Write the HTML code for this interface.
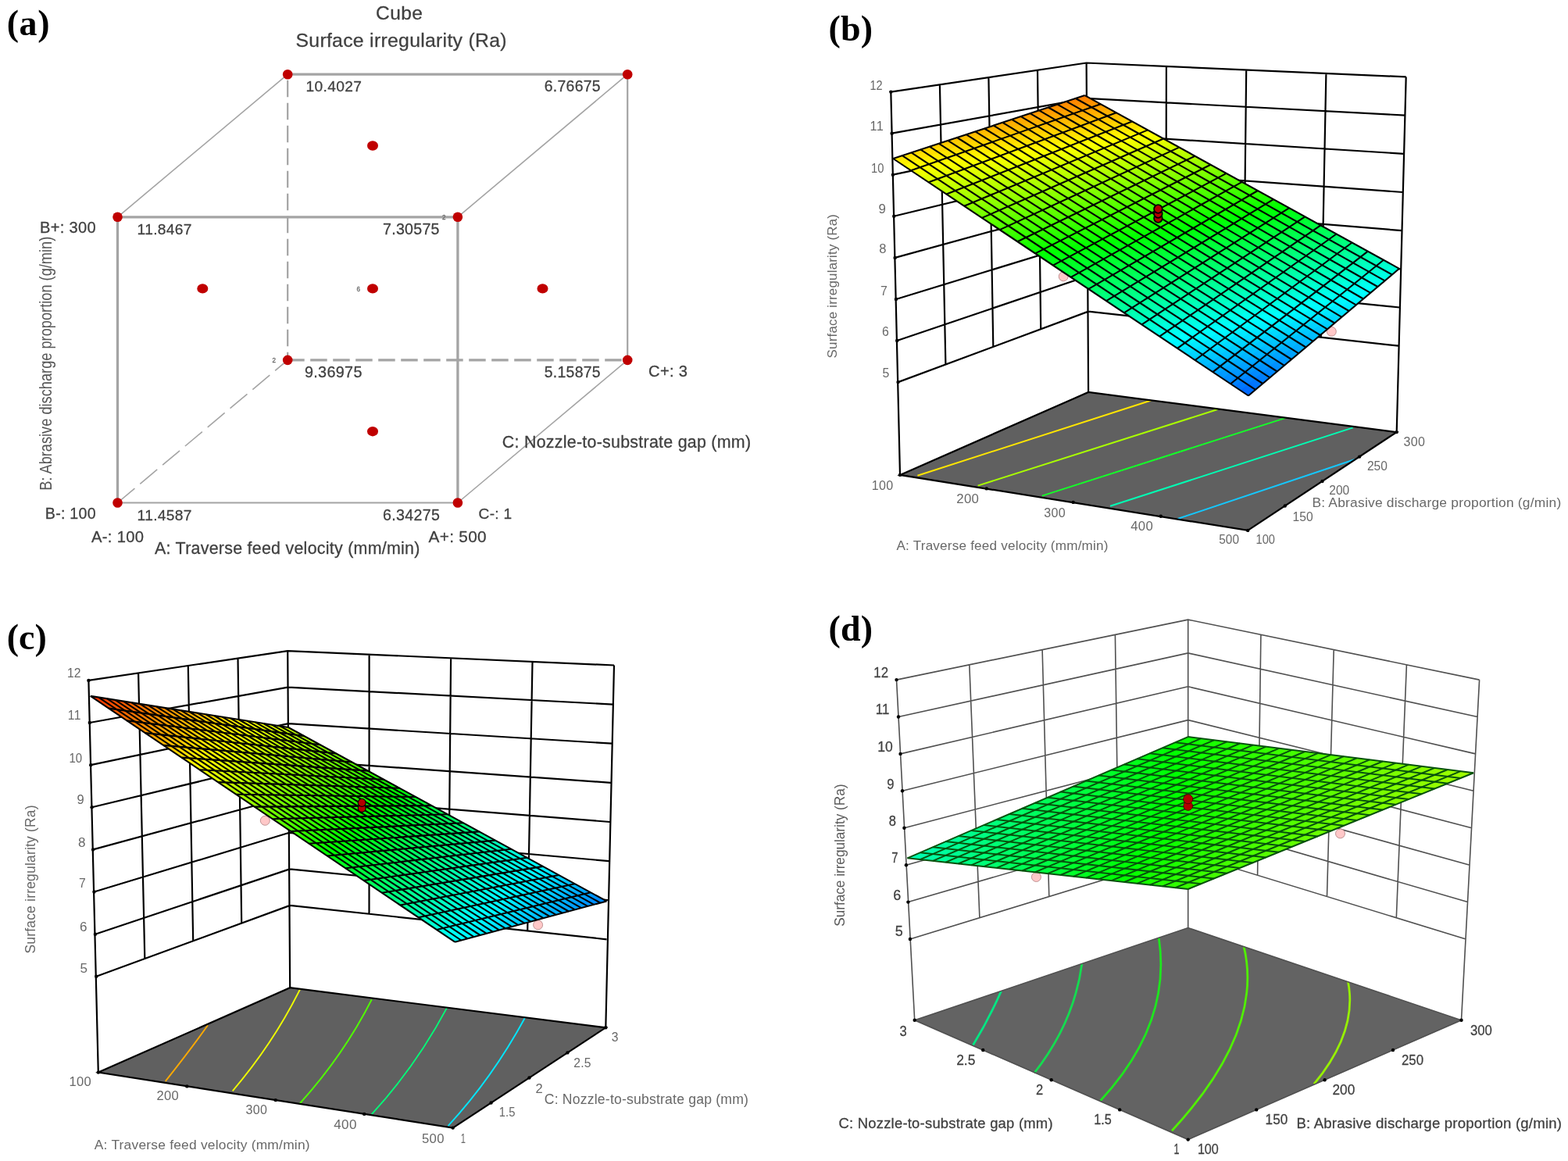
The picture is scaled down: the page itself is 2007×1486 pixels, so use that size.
<!DOCTYPE html>
<html lang="en">
<head>
<meta charset="utf-8">
<title>Surface irregularity (Ra) - cube and response surface plots</title>
<style>
html,body{margin:0;padding:0;background:#fff;}
body{width:2007px;height:1486px;overflow:hidden;}
svg{display:block;}
text{white-space:pre;}
</style>
</head>
<body>
<svg width="2007" height="1486" viewBox="0 0 2007 1486" role="img" aria-label="Cube plot and three response surface plots of surface irregularity (Ra)">
<rect x="0" y="0" width="2007" height="1486" fill="#ffffff"/>
<g>
<line x1="368.2" y1="95.2" x2="368.2" y2="460.9" stroke="#a4a4a4" stroke-width="2.2" stroke-dasharray="21.5 7.5" stroke-dashoffset="21.5"/>
<line x1="368.2" y1="460.9" x2="803.2" y2="460.9" stroke="#a4a4a4" stroke-width="3.3" stroke-dasharray="21.5 7.5"/>
<line x1="150.5" y1="643.5" x2="368.2" y2="460.9" stroke="#a4a4a4" stroke-width="1.6" stroke-dasharray="28.6 9"/>
<line x1="150.5" y1="277.8" x2="368.2" y2="95.2" stroke="#a4a4a4" stroke-width="1.6"/>
<line x1="585.9" y1="277.8" x2="803.2" y2="95.2" stroke="#a4a4a4" stroke-width="1.6"/>
<line x1="585.9" y1="643.5" x2="803.2" y2="460.9" stroke="#a4a4a4" stroke-width="1.6"/>
<line x1="368.2" y1="95.2" x2="803.2" y2="95.2" stroke="#a4a4a4" stroke-width="3.3"/>
<line x1="803.2" y1="95.2" x2="803.2" y2="460.9" stroke="#a4a4a4" stroke-width="2.2"/>
<line x1="150.5" y1="277.8" x2="585.9" y2="277.8" stroke="#a4a4a4" stroke-width="3.3"/>
<line x1="150.5" y1="277.8" x2="150.5" y2="643.5" stroke="#a4a4a4" stroke-width="3.3"/>
<line x1="585.9" y1="277.8" x2="585.9" y2="643.5" stroke="#a4a4a4" stroke-width="3.3"/>
<line x1="150.5" y1="643.5" x2="585.9" y2="643.5" stroke="#a4a4a4" stroke-width="2.2"/>
<circle cx="150.5" cy="277.8" r="6.3" fill="#c00000"/>
<circle cx="585.9" cy="277.8" r="6.3" fill="#c00000"/>
<circle cx="150.5" cy="643.5" r="6.3" fill="#c00000"/>
<circle cx="585.9" cy="643.5" r="6.3" fill="#c00000"/>
<circle cx="368.2" cy="95.2" r="6.3" fill="#c00000"/>
<circle cx="803.2" cy="95.2" r="6.3" fill="#c00000"/>
<circle cx="368.2" cy="460.9" r="6.3" fill="#c00000"/>
<circle cx="803.2" cy="460.9" r="6.3" fill="#c00000"/>
<ellipse cx="477" cy="186.5" rx="7" ry="6.2" fill="#c00000"/>
<ellipse cx="259.3" cy="369.4" rx="7" ry="6.2" fill="#c00000"/>
<ellipse cx="477" cy="369.4" rx="7" ry="6.2" fill="#c00000"/>
<ellipse cx="694.5" cy="369.4" rx="7" ry="6.2" fill="#c00000"/>
<ellipse cx="477" cy="552.2" rx="7" ry="6.2" fill="#c00000"/>
<text x="481" y="25.3" font-size="24.5" textLength="60" lengthAdjust="spacing" fill="#404040" font-family="'Liberation Sans', Arial, Helvetica, sans-serif" stroke="#404040" stroke-width="0.28">Cube</text>
<text x="378.5" y="59.5" font-size="24.8" textLength="270" lengthAdjust="spacing" fill="#404040" font-family="'Liberation Sans', Arial, Helvetica, sans-serif" stroke="#404040" stroke-width="0.28">Surface irregularity (Ra)</text>
<text x="391.6" y="117.1" font-size="19.2" textLength="71.3" lengthAdjust="spacing" fill="#404040" font-family="'Liberation Sans', Arial, Helvetica, sans-serif" stroke="#404040" stroke-width="0.28">10.4027</text>
<text x="696.8" y="117.1" font-size="19.4" textLength="71.8" lengthAdjust="spacing" fill="#404040" font-family="'Liberation Sans', Arial, Helvetica, sans-serif" stroke="#404040" stroke-width="0.28">6.76675</text>
<text x="175.6" y="300.2" font-size="19.2" textLength="69.8" lengthAdjust="spacing" fill="#404040" font-family="'Liberation Sans', Arial, Helvetica, sans-serif" stroke="#404040" stroke-width="0.28">11.8467</text>
<text x="490" y="300.2" font-size="19.6" textLength="72.5" lengthAdjust="spacing" fill="#404040" font-family="'Liberation Sans', Arial, Helvetica, sans-serif" stroke="#404040" stroke-width="0.28">7.30575</text>
<text x="389.9" y="483.4" font-size="19.8" textLength="73.5" lengthAdjust="spacing" fill="#404040" font-family="'Liberation Sans', Arial, Helvetica, sans-serif" stroke="#404040" stroke-width="0.28">9.36975</text>
<text x="696.8" y="483.4" font-size="19.4" textLength="71.8" lengthAdjust="spacing" fill="#404040" font-family="'Liberation Sans', Arial, Helvetica, sans-serif" stroke="#404040" stroke-width="0.28">5.15875</text>
<text x="175.6" y="665.7" font-size="19.2" textLength="69.8" lengthAdjust="spacing" fill="#404040" font-family="'Liberation Sans', Arial, Helvetica, sans-serif" stroke="#404040" stroke-width="0.28">11.4587</text>
<text x="490" y="665.7" font-size="19.6" textLength="72.8" lengthAdjust="spacing" fill="#404040" font-family="'Liberation Sans', Arial, Helvetica, sans-serif" stroke="#404040" stroke-width="0.28">6.34275</text>
<text x="51.1" y="297.7" font-size="20.1" textLength="71.5" lengthAdjust="spacing" fill="#404040" font-family="'Liberation Sans', Arial, Helvetica, sans-serif" stroke="#404040" stroke-width="0.28">B+: 300</text>
<text x="57.8" y="664" font-size="19.6" textLength="64.8" lengthAdjust="spacing" fill="#404040" font-family="'Liberation Sans', Arial, Helvetica, sans-serif" stroke="#404040" stroke-width="0.28">B-: 100</text>
<text x="117.1" y="694.4" font-size="20.2" textLength="66.8" lengthAdjust="spacing" fill="#404040" font-family="'Liberation Sans', Arial, Helvetica, sans-serif" stroke="#404040" stroke-width="0.28">A-: 100</text>
<text x="548.6" y="693.9" font-size="20.8" textLength="74" lengthAdjust="spacing" fill="#404040" font-family="'Liberation Sans', Arial, Helvetica, sans-serif" stroke="#404040" stroke-width="0.28">A+: 500</text>
<text x="612.6" y="664" font-size="19.1" textLength="42.4" lengthAdjust="spacing" fill="#404040" font-family="'Liberation Sans', Arial, Helvetica, sans-serif" stroke="#404040" stroke-width="0.28">C-: 1</text>
<text x="830.1" y="482.1" font-size="20.1" textLength="49.8" lengthAdjust="spacing" fill="#404040" font-family="'Liberation Sans', Arial, Helvetica, sans-serif" stroke="#404040" stroke-width="0.28">C+: 3</text>
<text x="642.8" y="573" font-size="21.4" textLength="318.2" lengthAdjust="spacing" fill="#404040" font-family="'Liberation Sans', Arial, Helvetica, sans-serif" stroke="#404040" stroke-width="0.28">C: Nozzle-to-substrate gap (mm)</text>
<text x="198" y="708.8" font-size="21.4" textLength="339.4" lengthAdjust="spacing" fill="#404040" font-family="'Liberation Sans', Arial, Helvetica, sans-serif" stroke="#404040" stroke-width="0.28">A: Traverse feed velocity (mm/min)</text>
<text transform="translate(66,627.8) rotate(-90)" x="0" y="0" font-size="22.8" textLength="325.1" lengthAdjust="spacingAndGlyphs" fill="#555" font-family="'Liberation Sans', Arial, Helvetica, sans-serif">B: Abrasive discharge proportion (g/min)</text>
<text x="566" y="280.5" font-size="8.5" textLength="4.5" lengthAdjust="spacingAndGlyphs" fill="#666" font-family="'Liberation Sans', Arial, Helvetica, sans-serif" stroke="#666" stroke-width="0.28">2</text>
<text x="456.5" y="372.5" font-size="8.5" textLength="4.5" lengthAdjust="spacingAndGlyphs" fill="#666" font-family="'Liberation Sans', Arial, Helvetica, sans-serif" stroke="#666" stroke-width="0.28">6</text>
<text x="348.5" y="464" font-size="8.5" textLength="4.5" lengthAdjust="spacingAndGlyphs" fill="#666" font-family="'Liberation Sans', Arial, Helvetica, sans-serif" stroke="#666" stroke-width="0.28">2</text>
<text x="8.7" y="45" font-size="46" textLength="54.8" lengthAdjust="spacing" fill="#000" font-family="'Liberation Serif', 'Times New Roman', serif" font-weight="bold">(a)</text>
</g>
<g>
<polygon points="1152,607.9 1393.1,502 1787.7,553.1 1597.2,678.9" fill="#606060"/>
<path d="M1174.4 608.7L1473.3 512.5" stroke="#ffe600" stroke-width="2" fill="none" stroke-linecap="butt"/>
<path d="M1251.6 621.6L1558.5 524" stroke="#aaff00" stroke-width="2" fill="none" stroke-linecap="butt"/>
<path d="M1333.8 634.6L1645.7 534.9" stroke="#14ff28" stroke-width="2" fill="none" stroke-linecap="butt"/>
<path d="M1421 647.8L1731.7 547.4" stroke="#00ffb4" stroke-width="2" fill="none" stroke-linecap="butt"/>
<path d="M1507.5 664L1734.2 588" stroke="#14c8ff" stroke-width="2" fill="none" stroke-linecap="butt"/>
<path d="M1152 607.9L1393.1 502L1787.7 553.1L1597.2 678.9Z" stroke="#000" stroke-width="2.2" fill="none" stroke-linejoin="miter"/>
<path d="M1140.3 117.6L1152 607.9M1202.9 108.3L1210.4 466.5M1492.9 85L1492.3 409.6M1265.4 99L1271.3 443.9M1595.2 89.5L1591.5 420.6M1328 89.8L1332.2 421.2M1697.4 93.9L1690.8 431.7M1390.6 80.5L1393.1 502M1799.7 98.4L1787.7 553.1M1140.3 117.6L1390.6 80.5L1799.7 98.4M1141.6 170.7L1391 125.9L1798.3 147.6M1142.9 223.7L1391.3 171.4L1796.9 196.8M1144.2 276.8L1391.7 216.8L1795.5 246M1145.6 329.9L1392 262.3L1794.2 295.1M1146.9 383L1392.4 307.7L1792.8 344.3M1148.2 436L1392.7 353.2L1791.4 393.5M1149.5 489.1L1393.1 398.6L1790 442.7" stroke="#000" stroke-width="2.2" fill="none" stroke-linejoin="round"/>
<circle cx="1262.8" cy="625.4" r="2.2" fill="#000"/>
<circle cx="1373.7" cy="642.9" r="2.2" fill="#000"/>
<circle cx="1485.8" cy="660.7" r="2.2" fill="#000"/>
<circle cx="1597.2" cy="678.9" r="2.2" fill="#000"/>
<circle cx="1152" cy="607.9" r="2.2" fill="#000"/>
<circle cx="1644.8" cy="647.5" r="2.2" fill="#000"/>
<circle cx="1692.5" cy="616" r="2.2" fill="#000"/>
<circle cx="1740.1" cy="584.6" r="2.2" fill="#000"/>
<circle cx="1787.7" cy="553.1" r="2.2" fill="#000"/>
<circle cx="1140.3" cy="117.6" r="2.2" fill="#000"/>
<circle cx="1141.6" cy="170.7" r="2.2" fill="#000"/>
<circle cx="1142.9" cy="223.7" r="2.2" fill="#000"/>
<circle cx="1144.2" cy="276.8" r="2.2" fill="#000"/>
<circle cx="1145.6" cy="329.9" r="2.2" fill="#000"/>
<circle cx="1146.9" cy="383" r="2.2" fill="#000"/>
<circle cx="1148.2" cy="436" r="2.2" fill="#000"/>
<circle cx="1149.5" cy="489.1" r="2.2" fill="#000"/>
<circle cx="1361.2" cy="353.8" r="6" fill="#ffc8c8" stroke="#b08080" stroke-width="0.8"/>
<circle cx="1704.3" cy="424.3" r="6" fill="#ffc8c8" stroke="#b08080" stroke-width="0.8"/>
<defs><linearGradient id="gb0" gradientUnits="userSpaceOnUse" x1="0" y1="0" x2="0" y2="1" gradientTransform="matrix(7.14 4.38 244.96 -81.58 1146.99 205.53)"><stop offset="0.000" stop-color="#ffe500"/><stop offset="1.000" stop-color="#ff7a00"/></linearGradient><linearGradient id="gb1" gradientUnits="userSpaceOnUse" x1="0" y1="0" x2="0" y2="1" gradientTransform="matrix(7.14 4.38 244.09 -82.95 1154.57 210.59)"><stop offset="0.000" stop-color="#fff100"/><stop offset="1.000" stop-color="#ff8400"/></linearGradient><linearGradient id="gb2" gradientUnits="userSpaceOnUse" x1="0" y1="0" x2="0" y2="1" gradientTransform="matrix(7.14 4.38 243.22 -84.31 1162.15 215.65)"><stop offset="0.000" stop-color="#fffd00"/><stop offset="1.000" stop-color="#ff8f00"/></linearGradient><linearGradient id="gb3" gradientUnits="userSpaceOnUse" x1="0" y1="0" x2="0" y2="1" gradientTransform="matrix(7.14 4.38 242.35 -85.67 1169.72 220.70)"><stop offset="0.000" stop-color="#f6ff00"/><stop offset="0.083" stop-color="#ffff00"/><stop offset="1.000" stop-color="#ff9900"/></linearGradient><linearGradient id="gb4" gradientUnits="userSpaceOnUse" x1="0" y1="0" x2="0" y2="1" gradientTransform="matrix(7.14 4.38 241.48 -87.03 1177.30 225.76)"><stop offset="0.000" stop-color="#eaff00"/><stop offset="0.185" stop-color="#ffff00"/><stop offset="1.000" stop-color="#ffa300"/></linearGradient><linearGradient id="gb5" gradientUnits="userSpaceOnUse" x1="0" y1="0" x2="0" y2="1" gradientTransform="matrix(7.14 4.38 240.61 -88.40 1184.88 230.82)"><stop offset="0.000" stop-color="#deff00"/><stop offset="0.285" stop-color="#ffff00"/><stop offset="1.000" stop-color="#ffad00"/></linearGradient><linearGradient id="gb6" gradientUnits="userSpaceOnUse" x1="0" y1="0" x2="0" y2="1" gradientTransform="matrix(7.14 4.38 239.73 -89.76 1192.46 235.88)"><stop offset="0.000" stop-color="#d3ff00"/><stop offset="0.381" stop-color="#ffff00"/><stop offset="1.000" stop-color="#ffb700"/></linearGradient><linearGradient id="gb7" gradientUnits="userSpaceOnUse" x1="0" y1="0" x2="0" y2="1" gradientTransform="matrix(7.14 4.38 238.86 -91.12 1200.04 240.94)"><stop offset="0.000" stop-color="#c7ff00"/><stop offset="0.476" stop-color="#ffff00"/><stop offset="1.000" stop-color="#ffc200"/></linearGradient><linearGradient id="gb8" gradientUnits="userSpaceOnUse" x1="0" y1="0" x2="0" y2="1" gradientTransform="matrix(7.14 4.38 237.99 -92.49 1207.62 246.00)"><stop offset="0.000" stop-color="#bbff00"/><stop offset="0.568" stop-color="#ffff00"/><stop offset="1.000" stop-color="#ffcc00"/></linearGradient><linearGradient id="gb9" gradientUnits="userSpaceOnUse" x1="0" y1="0" x2="0" y2="1" gradientTransform="matrix(7.14 4.38 237.12 -93.85 1215.19 251.05)"><stop offset="0.000" stop-color="#b0ff00"/><stop offset="0.658" stop-color="#ffff00"/><stop offset="1.000" stop-color="#ffd600"/></linearGradient><linearGradient id="gb10" gradientUnits="userSpaceOnUse" x1="0" y1="0" x2="0" y2="1" gradientTransform="matrix(7.14 4.38 236.25 -95.22 1222.77 256.11)"><stop offset="0.000" stop-color="#a4ff00"/><stop offset="0.746" stop-color="#ffff00"/><stop offset="1.000" stop-color="#ffe000"/></linearGradient><linearGradient id="gb11" gradientUnits="userSpaceOnUse" x1="0" y1="0" x2="0" y2="1" gradientTransform="matrix(7.14 4.38 235.38 -96.58 1230.35 261.17)"><stop offset="0.000" stop-color="#99ff00"/><stop offset="0.832" stop-color="#ffff00"/><stop offset="1.000" stop-color="#ffea00"/></linearGradient><linearGradient id="gb12" gradientUnits="userSpaceOnUse" x1="0" y1="0" x2="0" y2="1" gradientTransform="matrix(7.14 4.38 234.50 -97.94 1237.93 266.23)"><stop offset="0.000" stop-color="#8dff00"/><stop offset="0.916" stop-color="#ffff00"/><stop offset="1.000" stop-color="#fff500"/></linearGradient><linearGradient id="gb13" gradientUnits="userSpaceOnUse" x1="0" y1="0" x2="0" y2="1" gradientTransform="matrix(7.14 4.38 233.63 -99.31 1245.51 271.29)"><stop offset="0.000" stop-color="#81ff00"/><stop offset="0.998" stop-color="#ffff00"/><stop offset="1.000" stop-color="#ffff00"/></linearGradient><linearGradient id="gb14" gradientUnits="userSpaceOnUse" x1="0" y1="0" x2="0" y2="1" gradientTransform="matrix(7.14 4.38 232.76 -100.67 1253.09 276.35)"><stop offset="0.000" stop-color="#76ff00"/><stop offset="1.000" stop-color="#f5ff00"/></linearGradient><linearGradient id="gb15" gradientUnits="userSpaceOnUse" x1="0" y1="0" x2="0" y2="1" gradientTransform="matrix(7.14 4.38 231.89 -102.03 1260.66 281.40)"><stop offset="0.000" stop-color="#6aff00"/><stop offset="1.000" stop-color="#ebff00"/></linearGradient><linearGradient id="gb16" gradientUnits="userSpaceOnUse" x1="0" y1="0" x2="0" y2="1" gradientTransform="matrix(7.14 4.38 231.02 -103.39 1268.24 286.46)"><stop offset="0.000" stop-color="#5eff00"/><stop offset="1.000" stop-color="#e1ff00"/></linearGradient><linearGradient id="gb17" gradientUnits="userSpaceOnUse" x1="0" y1="0" x2="0" y2="1" gradientTransform="matrix(7.14 4.38 230.15 -104.76 1275.82 291.52)"><stop offset="0.000" stop-color="#53ff00"/><stop offset="1.000" stop-color="#d6ff00"/></linearGradient><linearGradient id="gb18" gradientUnits="userSpaceOnUse" x1="0" y1="0" x2="0" y2="1" gradientTransform="matrix(7.14 4.38 229.27 -106.12 1283.40 296.58)"><stop offset="0.000" stop-color="#47ff00"/><stop offset="1.000" stop-color="#ccff00"/></linearGradient><linearGradient id="gb19" gradientUnits="userSpaceOnUse" x1="0" y1="0" x2="0" y2="1" gradientTransform="matrix(7.14 4.38 228.40 -107.49 1290.98 301.64)"><stop offset="0.000" stop-color="#3bff00"/><stop offset="1.000" stop-color="#c2ff00"/></linearGradient><linearGradient id="gb20" gradientUnits="userSpaceOnUse" x1="0" y1="0" x2="0" y2="1" gradientTransform="matrix(7.14 4.38 227.53 -108.85 1298.56 306.70)"><stop offset="0.000" stop-color="#30ff00"/><stop offset="1.000" stop-color="#b8ff00"/></linearGradient><linearGradient id="gb21" gradientUnits="userSpaceOnUse" x1="0" y1="0" x2="0" y2="1" gradientTransform="matrix(7.14 4.38 226.66 -110.21 1306.13 311.75)"><stop offset="0.000" stop-color="#24ff00"/><stop offset="1.000" stop-color="#aeff00"/></linearGradient><linearGradient id="gb22" gradientUnits="userSpaceOnUse" x1="0" y1="0" x2="0" y2="1" gradientTransform="matrix(7.14 4.38 225.79 -111.57 1313.71 316.81)"><stop offset="0.000" stop-color="#18ff00"/><stop offset="1.000" stop-color="#a3ff00"/></linearGradient><linearGradient id="gb23" gradientUnits="userSpaceOnUse" x1="0" y1="0" x2="0" y2="1" gradientTransform="matrix(7.14 4.38 224.92 -112.94 1321.29 321.87)"><stop offset="0.000" stop-color="#0dff00"/><stop offset="1.000" stop-color="#99ff00"/></linearGradient><linearGradient id="gb24" gradientUnits="userSpaceOnUse" x1="0" y1="0" x2="0" y2="1" gradientTransform="matrix(7.14 4.38 224.04 -114.30 1328.87 326.93)"><stop offset="0.000" stop-color="#01ff00"/><stop offset="1.000" stop-color="#8fff00"/></linearGradient><linearGradient id="gb25" gradientUnits="userSpaceOnUse" x1="0" y1="0" x2="0" y2="1" gradientTransform="matrix(7.14 4.38 223.17 -115.67 1336.45 331.99)"><stop offset="0.000" stop-color="#00ff0b"/><stop offset="0.074" stop-color="#00ff00"/><stop offset="1.000" stop-color="#85ff00"/></linearGradient><linearGradient id="gb26" gradientUnits="userSpaceOnUse" x1="0" y1="0" x2="0" y2="1" gradientTransform="matrix(7.14 4.38 222.30 -117.03 1344.03 337.05)"><stop offset="0.000" stop-color="#00ff16"/><stop offset="0.153" stop-color="#00ff00"/><stop offset="1.000" stop-color="#7bff00"/></linearGradient><linearGradient id="gb27" gradientUnits="userSpaceOnUse" x1="0" y1="0" x2="0" y2="1" gradientTransform="matrix(7.14 4.38 221.43 -118.39 1351.60 342.10)"><stop offset="0.000" stop-color="#00ff22"/><stop offset="0.231" stop-color="#00ff00"/><stop offset="1.000" stop-color="#70ff00"/></linearGradient><linearGradient id="gb28" gradientUnits="userSpaceOnUse" x1="0" y1="0" x2="0" y2="1" gradientTransform="matrix(7.14 4.38 220.56 -119.76 1359.18 347.16)"><stop offset="0.000" stop-color="#00ff2e"/><stop offset="0.308" stop-color="#00ff00"/><stop offset="1.000" stop-color="#66ff00"/></linearGradient><linearGradient id="gb29" gradientUnits="userSpaceOnUse" x1="0" y1="0" x2="0" y2="1" gradientTransform="matrix(7.14 4.38 219.69 -121.12 1366.76 352.22)"><stop offset="0.000" stop-color="#00ff39"/><stop offset="0.383" stop-color="#00ff00"/><stop offset="1.000" stop-color="#5cff00"/></linearGradient><linearGradient id="gb30" gradientUnits="userSpaceOnUse" x1="0" y1="0" x2="0" y2="1" gradientTransform="matrix(7.14 4.38 218.81 -122.48 1374.34 357.28)"><stop offset="0.000" stop-color="#00ff45"/><stop offset="0.457" stop-color="#00ff00"/><stop offset="1.000" stop-color="#52ff00"/></linearGradient><linearGradient id="gb31" gradientUnits="userSpaceOnUse" x1="0" y1="0" x2="0" y2="1" gradientTransform="matrix(7.14 4.38 217.94 -123.84 1381.92 362.34)"><stop offset="0.000" stop-color="#00ff50"/><stop offset="0.529" stop-color="#00ff00"/><stop offset="1.000" stop-color="#48ff00"/></linearGradient><linearGradient id="gb32" gradientUnits="userSpaceOnUse" x1="0" y1="0" x2="0" y2="1" gradientTransform="matrix(7.14 4.38 217.07 -125.21 1389.50 367.40)"><stop offset="0.000" stop-color="#00ff5c"/><stop offset="0.600" stop-color="#00ff00"/><stop offset="1.000" stop-color="#3eff00"/></linearGradient><linearGradient id="gb33" gradientUnits="userSpaceOnUse" x1="0" y1="0" x2="0" y2="1" gradientTransform="matrix(7.14 4.38 216.20 -126.57 1397.07 372.45)"><stop offset="0.000" stop-color="#00ff68"/><stop offset="0.669" stop-color="#00ff00"/><stop offset="1.000" stop-color="#33ff00"/></linearGradient><linearGradient id="gb34" gradientUnits="userSpaceOnUse" x1="0" y1="0" x2="0" y2="1" gradientTransform="matrix(7.14 4.38 215.33 -127.94 1404.65 377.51)"><stop offset="0.000" stop-color="#00ff73"/><stop offset="0.737" stop-color="#00ff00"/><stop offset="1.000" stop-color="#29ff00"/></linearGradient><linearGradient id="gb35" gradientUnits="userSpaceOnUse" x1="0" y1="0" x2="0" y2="1" gradientTransform="matrix(7.14 4.38 214.46 -129.30 1412.23 382.57)"><stop offset="0.000" stop-color="#00ff7f"/><stop offset="0.804" stop-color="#00ff00"/><stop offset="1.000" stop-color="#1fff00"/></linearGradient><linearGradient id="gb36" gradientUnits="userSpaceOnUse" x1="0" y1="0" x2="0" y2="1" gradientTransform="matrix(7.14 4.38 213.58 -130.66 1419.81 387.63)"><stop offset="0.000" stop-color="#00ff8b"/><stop offset="0.870" stop-color="#00ff00"/><stop offset="1.000" stop-color="#15ff00"/></linearGradient><linearGradient id="gb37" gradientUnits="userSpaceOnUse" x1="0" y1="0" x2="0" y2="1" gradientTransform="matrix(7.14 4.38 212.71 -132.02 1427.39 392.69)"><stop offset="0.000" stop-color="#00ff96"/><stop offset="0.935" stop-color="#00ff00"/><stop offset="1.000" stop-color="#0bff00"/></linearGradient><linearGradient id="gb38" gradientUnits="userSpaceOnUse" x1="0" y1="0" x2="0" y2="1" gradientTransform="matrix(7.14 4.38 211.84 -133.39 1434.97 397.75)"><stop offset="0.000" stop-color="#00ffa2"/><stop offset="0.998" stop-color="#00ff00"/><stop offset="1.000" stop-color="#00ff00"/></linearGradient><linearGradient id="gb39" gradientUnits="userSpaceOnUse" x1="0" y1="0" x2="0" y2="1" gradientTransform="matrix(7.14 4.38 210.97 -134.75 1442.54 402.80)"><stop offset="0.000" stop-color="#00ffae"/><stop offset="1.000" stop-color="#00ff0a"/></linearGradient><linearGradient id="gb40" gradientUnits="userSpaceOnUse" x1="0" y1="0" x2="0" y2="1" gradientTransform="matrix(7.14 4.38 210.10 -136.12 1450.12 407.86)"><stop offset="0.000" stop-color="#00ffb9"/><stop offset="1.000" stop-color="#00ff14"/></linearGradient><linearGradient id="gb41" gradientUnits="userSpaceOnUse" x1="0" y1="0" x2="0" y2="1" gradientTransform="matrix(7.14 4.38 209.23 -137.48 1457.70 412.92)"><stop offset="0.000" stop-color="#00ffc5"/><stop offset="1.000" stop-color="#00ff1e"/></linearGradient><linearGradient id="gb42" gradientUnits="userSpaceOnUse" x1="0" y1="0" x2="0" y2="1" gradientTransform="matrix(7.14 4.38 208.35 -138.84 1465.28 417.98)"><stop offset="0.000" stop-color="#00ffd1"/><stop offset="1.000" stop-color="#00ff28"/></linearGradient><linearGradient id="gb43" gradientUnits="userSpaceOnUse" x1="0" y1="0" x2="0" y2="1" gradientTransform="matrix(7.14 4.38 207.48 -140.21 1472.86 423.04)"><stop offset="0.000" stop-color="#00ffdc"/><stop offset="1.000" stop-color="#00ff33"/></linearGradient><linearGradient id="gb44" gradientUnits="userSpaceOnUse" x1="0" y1="0" x2="0" y2="1" gradientTransform="matrix(7.14 4.38 206.61 -141.57 1480.44 428.10)"><stop offset="0.000" stop-color="#00ffe8"/><stop offset="1.000" stop-color="#00ff3d"/></linearGradient><linearGradient id="gb45" gradientUnits="userSpaceOnUse" x1="0" y1="0" x2="0" y2="1" gradientTransform="matrix(7.14 4.38 205.74 -142.93 1488.01 433.15)"><stop offset="0.000" stop-color="#00fff4"/><stop offset="1.000" stop-color="#00ff47"/></linearGradient><linearGradient id="gb46" gradientUnits="userSpaceOnUse" x1="0" y1="0" x2="0" y2="1" gradientTransform="matrix(7.14 4.38 204.87 -144.29 1495.59 438.21)"><stop offset="0.000" stop-color="#00ffff"/><stop offset="0.001" stop-color="#00ffff"/><stop offset="1.000" stop-color="#00ff51"/></linearGradient><linearGradient id="gb47" gradientUnits="userSpaceOnUse" x1="0" y1="0" x2="0" y2="1" gradientTransform="matrix(7.14 4.38 204.00 -145.66 1503.17 443.27)"><stop offset="0.000" stop-color="#00f3ff"/><stop offset="0.068" stop-color="#00ffff"/><stop offset="1.000" stop-color="#00ff5c"/></linearGradient><linearGradient id="gb48" gradientUnits="userSpaceOnUse" x1="0" y1="0" x2="0" y2="1" gradientTransform="matrix(7.14 4.38 203.12 -147.02 1510.75 448.33)"><stop offset="0.000" stop-color="#00e7ff"/><stop offset="0.133" stop-color="#00ffff"/><stop offset="1.000" stop-color="#00ff66"/></linearGradient><linearGradient id="gb49" gradientUnits="userSpaceOnUse" x1="0" y1="0" x2="0" y2="1" gradientTransform="matrix(7.14 4.38 202.25 -148.38 1518.33 453.39)"><stop offset="0.000" stop-color="#00dcff"/><stop offset="0.197" stop-color="#00ffff"/><stop offset="1.000" stop-color="#00ff70"/></linearGradient><linearGradient id="gb50" gradientUnits="userSpaceOnUse" x1="0" y1="0" x2="0" y2="1" gradientTransform="matrix(7.14 4.38 201.38 -149.75 1525.91 458.45)"><stop offset="0.000" stop-color="#00d0ff"/><stop offset="0.261" stop-color="#00ffff"/><stop offset="1.000" stop-color="#00ff7a"/></linearGradient><linearGradient id="gb51" gradientUnits="userSpaceOnUse" x1="0" y1="0" x2="0" y2="1" gradientTransform="matrix(7.14 4.38 200.51 -151.11 1533.48 463.50)"><stop offset="0.000" stop-color="#00c5ff"/><stop offset="0.323" stop-color="#00ffff"/><stop offset="1.000" stop-color="#00ff84"/></linearGradient><linearGradient id="gb52" gradientUnits="userSpaceOnUse" x1="0" y1="0" x2="0" y2="1" gradientTransform="matrix(7.14 4.38 199.64 -152.48 1541.06 468.56)"><stop offset="0.000" stop-color="#00b9ff"/><stop offset="0.384" stop-color="#00ffff"/><stop offset="1.000" stop-color="#00ff8e"/></linearGradient><linearGradient id="gb53" gradientUnits="userSpaceOnUse" x1="0" y1="0" x2="0" y2="1" gradientTransform="matrix(7.14 4.38 198.77 -153.84 1548.64 473.62)"><stop offset="0.000" stop-color="#00adff"/><stop offset="0.444" stop-color="#00ffff"/><stop offset="1.000" stop-color="#00ff99"/></linearGradient><linearGradient id="gb54" gradientUnits="userSpaceOnUse" x1="0" y1="0" x2="0" y2="1" gradientTransform="matrix(7.14 4.38 197.89 -155.20 1556.22 478.68)"><stop offset="0.000" stop-color="#00a2ff"/><stop offset="0.504" stop-color="#00ffff"/><stop offset="1.000" stop-color="#00ffa3"/></linearGradient><linearGradient id="gb55" gradientUnits="userSpaceOnUse" x1="0" y1="0" x2="0" y2="1" gradientTransform="matrix(7.14 4.38 197.02 -156.56 1563.80 483.74)"><stop offset="0.000" stop-color="#0096ff"/><stop offset="0.562" stop-color="#00ffff"/><stop offset="1.000" stop-color="#00ffad"/></linearGradient><linearGradient id="gb56" gradientUnits="userSpaceOnUse" x1="0" y1="0" x2="0" y2="1" gradientTransform="matrix(7.14 4.38 196.15 -157.93 1571.38 488.80)"><stop offset="0.000" stop-color="#008aff"/><stop offset="0.619" stop-color="#00ffff"/><stop offset="1.000" stop-color="#00ffb7"/></linearGradient><linearGradient id="gb57" gradientUnits="userSpaceOnUse" x1="0" y1="0" x2="0" y2="1" gradientTransform="matrix(7.14 4.38 195.28 -159.29 1578.95 493.85)"><stop offset="0.000" stop-color="#007fff"/><stop offset="0.676" stop-color="#00ffff"/><stop offset="1.000" stop-color="#00ffc2"/></linearGradient><linearGradient id="gb58" gradientUnits="userSpaceOnUse" x1="0" y1="0" x2="0" y2="1" gradientTransform="matrix(7.14 4.38 194.41 -160.65 1586.53 498.91)"><stop offset="0.000" stop-color="#0073ff"/><stop offset="0.732" stop-color="#00ffff"/><stop offset="1.000" stop-color="#00ffcc"/></linearGradient><linearGradient id="gb59" gradientUnits="userSpaceOnUse" x1="0" y1="0" x2="0" y2="1" gradientTransform="matrix(7.14 4.38 193.54 -162.02 1594.11 503.97)"><stop offset="0.000" stop-color="#0067ff"/><stop offset="0.787" stop-color="#00ffff"/><stop offset="1.000" stop-color="#00ffd6"/></linearGradient></defs>
<polygon points="1143.2,203 1153.4,209.8 1397.7,127.1 1388.6,122.1" fill="url(#gb0)"/><polygon points="1148.1,206.3 1161,214.9 1404.4,130.8 1393,124.5" fill="url(#gb1)"/><polygon points="1155.7,211.3 1168.6,219.9 1411.1,134.5 1399.7,128.2" fill="url(#gb2)"/><polygon points="1163.3,216.4 1176.2,225 1417.8,138.2 1406.4,131.9" fill="url(#gb3)"/><polygon points="1170.9,221.5 1183.7,230.1 1424.5,141.9 1413.1,135.6" fill="url(#gb4)"/><polygon points="1178.4,226.5 1191.3,235.1 1431.2,145.6 1419.8,139.3" fill="url(#gb5)"/><polygon points="1186,231.6 1198.9,240.2 1437.9,149.3 1426.5,143" fill="url(#gb6)"/><polygon points="1193.6,236.6 1206.5,245.2 1444.6,153 1433.2,146.7" fill="url(#gb7)"/><polygon points="1201.2,241.7 1214.1,250.3 1451.3,156.6 1439.9,150.4" fill="url(#gb8)"/><polygon points="1208.8,246.8 1221.6,255.4 1458,160.3 1446.6,154.1" fill="url(#gb9)"/><polygon points="1216.3,251.8 1229.2,260.4 1464.7,164 1453.3,157.8" fill="url(#gb10)"/><polygon points="1223.9,256.9 1236.8,265.5 1471.4,167.7 1460,161.5" fill="url(#gb11)"/><polygon points="1231.5,261.9 1244.4,270.5 1478.1,171.4 1466.7,165.1" fill="url(#gb12)"/><polygon points="1239.1,267 1251.9,275.6 1484.8,175.1 1473.4,168.8" fill="url(#gb13)"/><polygon points="1246.6,272 1259.5,280.6 1491.5,178.8 1480.1,172.5" fill="url(#gb14)"/><polygon points="1254.2,277.1 1267.1,285.7 1498.3,182.5 1486.9,176.2" fill="url(#gb15)"/><polygon points="1261.8,282.2 1274.7,290.8 1505,186.2 1493.6,179.9" fill="url(#gb16)"/><polygon points="1269.4,287.2 1282.3,295.8 1511.7,189.9 1500.3,183.6" fill="url(#gb17)"/><polygon points="1277,292.3 1289.8,300.9 1518.4,193.6 1507,187.3" fill="url(#gb18)"/><polygon points="1284.5,297.3 1297.4,305.9 1525.1,197.3 1513.7,191" fill="url(#gb19)"/><polygon points="1292.1,302.4 1305,311 1531.8,201 1520.4,194.7" fill="url(#gb20)"/><polygon points="1299.7,307.5 1312.6,316.1 1538.5,204.7 1527.1,198.4" fill="url(#gb21)"/><polygon points="1307.3,312.5 1320.2,321.1 1545.2,208.4 1533.8,202.1" fill="url(#gb22)"/><polygon points="1314.8,317.6 1327.7,326.2 1551.9,212.1 1540.5,205.8" fill="url(#gb23)"/><polygon points="1322.4,322.6 1335.3,331.2 1558.6,215.8 1547.2,209.5" fill="url(#gb24)"/><polygon points="1330,327.7 1342.9,336.3 1565.3,219.5 1553.9,213.2" fill="url(#gb25)"/><polygon points="1337.6,332.7 1350.5,341.3 1572,223.2 1560.6,216.9" fill="url(#gb26)"/><polygon points="1345.2,337.8 1358,346.4 1578.7,226.9 1567.3,220.6" fill="url(#gb27)"/><polygon points="1352.7,342.9 1365.6,351.5 1585.4,230.5 1574,224.3" fill="url(#gb28)"/><polygon points="1360.3,347.9 1373.2,356.5 1592.1,234.2 1580.7,228" fill="url(#gb29)"/><polygon points="1367.9,353 1380.8,361.6 1598.9,237.9 1587.5,231.7" fill="url(#gb30)"/><polygon points="1375.5,358 1388.4,366.6 1605.6,241.6 1594.2,235.4" fill="url(#gb31)"/><polygon points="1383.1,363.1 1395.9,371.7 1612.3,245.3 1600.9,239" fill="url(#gb32)"/><polygon points="1390.6,368.2 1403.5,376.8 1619,249 1607.6,242.7" fill="url(#gb33)"/><polygon points="1398.2,373.2 1411.1,381.8 1625.7,252.7 1614.3,246.4" fill="url(#gb34)"/><polygon points="1405.8,378.3 1418.7,386.9 1632.4,256.4 1621,250.1" fill="url(#gb35)"/><polygon points="1413.4,383.3 1426.3,391.9 1639.1,260.1 1627.7,253.8" fill="url(#gb36)"/><polygon points="1420.9,388.4 1433.8,397 1645.8,263.8 1634.4,257.5" fill="url(#gb37)"/><polygon points="1428.5,393.4 1441.4,402 1652.5,267.5 1641.1,261.2" fill="url(#gb38)"/><polygon points="1436.1,398.5 1449,407.1 1659.2,271.2 1647.8,264.9" fill="url(#gb39)"/><polygon points="1443.7,403.6 1456.6,412.2 1665.9,274.9 1654.5,268.6" fill="url(#gb40)"/><polygon points="1451.3,408.6 1464.1,417.2 1672.6,278.6 1661.2,272.3" fill="url(#gb41)"/><polygon points="1458.8,413.7 1471.7,422.3 1679.3,282.3 1667.9,276" fill="url(#gb42)"/><polygon points="1466.4,418.7 1479.3,427.3 1686,286 1674.6,279.7" fill="url(#gb43)"/><polygon points="1474,423.8 1486.9,432.4 1692.7,289.7 1681.3,283.4" fill="url(#gb44)"/><polygon points="1481.6,428.9 1494.5,437.5 1699.5,293.4 1688.1,287.1" fill="url(#gb45)"/><polygon points="1489.2,433.9 1502,442.5 1706.2,297.1 1694.8,290.8" fill="url(#gb46)"/><polygon points="1496.7,439 1509.6,447.6 1712.9,300.8 1701.5,294.5" fill="url(#gb47)"/><polygon points="1504.3,444 1517.2,452.6 1719.6,304.4 1708.2,298.2" fill="url(#gb48)"/><polygon points="1511.9,449.1 1524.8,457.7 1726.3,308.1 1714.9,301.9" fill="url(#gb49)"/><polygon points="1519.5,454.1 1532.3,462.7 1733,311.8 1721.6,305.6" fill="url(#gb50)"/><polygon points="1527,459.2 1539.9,467.8 1739.7,315.5 1728.3,309.3" fill="url(#gb51)"/><polygon points="1534.6,464.3 1547.5,472.9 1746.4,319.2 1735,312.9" fill="url(#gb52)"/><polygon points="1542.2,469.3 1555.1,477.9 1753.1,322.9 1741.7,316.6" fill="url(#gb53)"/><polygon points="1549.8,474.4 1562.7,483 1759.8,326.6 1748.4,320.3" fill="url(#gb54)"/><polygon points="1557.4,479.4 1570.2,488 1766.5,330.3 1755.1,324" fill="url(#gb55)"/><polygon points="1564.9,484.5 1577.8,493.1 1773.2,334 1761.8,327.7" fill="url(#gb56)"/><polygon points="1572.5,489.6 1585.4,498.2 1779.9,337.7 1768.5,331.4" fill="url(#gb57)"/><polygon points="1580.1,494.6 1593,503.2 1786.6,341.4 1775.2,335.1" fill="url(#gb58)"/><polygon points="1587.7,499.7 1597.9,506.5 1791,343.8 1781.9,338.8" fill="url(#gb59)"/>
<path d="M1143.2 203L1388.6 122.1M1165.9 218.2L1408.7 133.2M1188.7 233.3L1428.8 144.3M1211.4 248.5L1449 155.4M1234.1 263.7L1469.1 166.4M1256.9 278.9L1489.2 177.5M1279.6 294.1L1509.3 188.6M1302.3 309.2L1529.4 199.7M1325.1 324.4L1549.6 210.8M1347.8 339.6L1569.7 221.9M1370.6 354.8L1589.8 232.9M1393.3 369.9L1609.9 244M1416 385.1L1630 255.1M1438.8 400.3L1650.2 266.2M1461.5 415.4L1670.3 277.3M1484.2 430.6L1690.4 288.4M1507 445.8L1710.5 299.5M1529.7 461L1730.6 310.5M1552.4 476.2L1750.8 321.6M1575.2 491.3L1770.9 332.7M1597.9 506.5L1791 343.8" stroke="#000" stroke-width="2.1" fill="none"/>
<path d="M1143.2 203L1597.9 506.5M1154.9 199.1L1607.1 498.8M1166.6 195.3L1616.3 491M1178.3 191.4L1625.5 483.3M1189.9 187.6L1634.7 475.5M1201.6 183.7L1643.9 467.8M1213.3 179.9L1653.1 460M1225 176L1662.3 452.3M1236.7 172.2L1671.5 444.5M1248.4 168.3L1680.7 436.8M1260.1 164.5L1689.9 429M1271.7 160.6L1699 421.3M1283.4 156.8L1708.2 413.5M1295.1 152.9L1717.4 405.8M1306.8 149.1L1726.6 398M1318.5 145.2L1735.8 390.3M1330.2 141.4L1745 382.5M1341.9 137.5L1754.2 374.8M1353.5 133.7L1763.4 367M1365.2 129.8L1772.6 359.3M1376.9 126L1781.8 351.5M1388.6 122.1L1791 343.8" stroke="#000" stroke-width="2.1" fill="none"/>
<circle cx="1482.4" cy="279.5" r="5.3" fill="#b40000" stroke="#000" stroke-width="1.8"/>
<circle cx="1482.4" cy="273.5" r="5.3" fill="#b40000" stroke="#000" stroke-width="1.8"/>
<circle cx="1482.4" cy="267.5" r="5.3" fill="#b40000" stroke="#000" stroke-width="1.8"/>
<text x="1113.4" y="114.6" font-size="15.8" textLength="16.1" lengthAdjust="spacingAndGlyphs" fill="#686868" font-family="'Liberation Sans', Arial, Helvetica, sans-serif">12</text>
<text x="1113.4" y="167.4" font-size="16.3" textLength="17.4" lengthAdjust="spacing" fill="#686868" font-family="'Liberation Sans', Arial, Helvetica, sans-serif">11</text>
<text x="1115.1" y="220.5" font-size="15.8" textLength="16.4" lengthAdjust="spacingAndGlyphs" fill="#686868" font-family="'Liberation Sans', Arial, Helvetica, sans-serif">10</text>
<text x="1124.6" y="273.3" font-size="15.8" textLength="9.4" lengthAdjust="spacingAndGlyphs" fill="#686868" font-family="'Liberation Sans', Arial, Helvetica, sans-serif">9</text>
<text x="1125.3" y="323.9" font-size="15.8" textLength="9.2" lengthAdjust="spacingAndGlyphs" fill="#686868" font-family="'Liberation Sans', Arial, Helvetica, sans-serif">8</text>
<text x="1127" y="377.5" font-size="15.8" textLength="8.8" lengthAdjust="spacingAndGlyphs" fill="#686868" font-family="'Liberation Sans', Arial, Helvetica, sans-serif">7</text>
<text x="1129" y="429.8" font-size="15.8" textLength="8.8" lengthAdjust="spacingAndGlyphs" fill="#686868" font-family="'Liberation Sans', Arial, Helvetica, sans-serif">6</text>
<text x="1129.5" y="483.4" font-size="15.8" textLength="8.8" lengthAdjust="spacingAndGlyphs" fill="#686868" font-family="'Liberation Sans', Arial, Helvetica, sans-serif">5</text>
<text x="1115.8" y="626.6" font-size="16" textLength="27.4" lengthAdjust="spacing" fill="#686868" font-family="'Liberation Sans', Arial, Helvetica, sans-serif">100</text>
<text x="1224.2" y="644" font-size="16.8" textLength="28.7" lengthAdjust="spacing" fill="#686868" font-family="'Liberation Sans', Arial, Helvetica, sans-serif">200</text>
<text x="1336.3" y="661.5" font-size="16" textLength="27.4" lengthAdjust="spacing" fill="#686868" font-family="'Liberation Sans', Arial, Helvetica, sans-serif">300</text>
<text x="1447.2" y="679.4" font-size="16.7" textLength="28.6" lengthAdjust="spacing" fill="#686868" font-family="'Liberation Sans', Arial, Helvetica, sans-serif">400</text>
<text x="1560.3" y="696.4" font-size="15.8" textLength="25.7" lengthAdjust="spacingAndGlyphs" fill="#686868" font-family="'Liberation Sans', Arial, Helvetica, sans-serif">500</text>
<text x="1607.6" y="696.4" font-size="15.8" textLength="24.4" lengthAdjust="spacingAndGlyphs" fill="#686868" font-family="'Liberation Sans', Arial, Helvetica, sans-serif">100</text>
<text x="1654.5" y="666.5" font-size="15.8" textLength="26.1" lengthAdjust="spacingAndGlyphs" fill="#686868" font-family="'Liberation Sans', Arial, Helvetica, sans-serif">150</text>
<text x="1701.3" y="632.8" font-size="15.8" textLength="25.9" lengthAdjust="spacingAndGlyphs" fill="#686868" font-family="'Liberation Sans', Arial, Helvetica, sans-serif">200</text>
<text x="1749.9" y="602.2" font-size="15.8" textLength="25.9" lengthAdjust="spacingAndGlyphs" fill="#686868" font-family="'Liberation Sans', Arial, Helvetica, sans-serif">250</text>
<text x="1796.5" y="571.3" font-size="16" textLength="27.4" lengthAdjust="spacing" fill="#686868" font-family="'Liberation Sans', Arial, Helvetica, sans-serif">300</text>
<text x="1147.5" y="703.8" font-size="17.1" textLength="271" lengthAdjust="spacing" fill="#686868" font-family="'Liberation Sans', Arial, Helvetica, sans-serif">A: Traverse feed velocity (mm/min)</text>
<text x="1679.4" y="648.5" font-size="17.4" textLength="318.9" lengthAdjust="spacing" fill="#686868" font-family="'Liberation Sans', Arial, Helvetica, sans-serif">B: Abrasive discharge proportion (g/min)</text>
<text transform="translate(1070.5,458.4) rotate(-90)" x="0" y="0" font-size="16.9" textLength="184.4" lengthAdjust="spacing" fill="#686868" font-family="'Liberation Sans', Arial, Helvetica, sans-serif">Surface irregularity (Ra)</text>
<text x="1060.5" y="51.5" font-size="46" textLength="56.6" lengthAdjust="spacing" fill="#000" font-family="'Liberation Serif', 'Times New Roman', serif" font-weight="bold">(b)</text>
</g>
<g>
<polygon points="125.8,1372.6 371.2,1264.2 775.3,1315.3 579.7,1443.6" fill="#606060"/>
<path d="M211.8 1383.8Q242 1346 266 1312.3" stroke="#ffaa00" stroke-width="1.9" fill="none" stroke-linecap="butt"/>
<path d="M297.7 1396.3Q350 1335 384.4 1265.5" stroke="#f0ff00" stroke-width="1.9" fill="none" stroke-linecap="butt"/>
<path d="M383.7 1412.5Q440 1350 475.8 1279.2" stroke="#50ff00" stroke-width="1.9" fill="none" stroke-linecap="butt"/>
<path d="M475.8 1426.2Q532 1365 572.2 1289.6" stroke="#00ff78" stroke-width="1.9" fill="none" stroke-linecap="butt"/>
<path d="M573.5 1441.1Q630 1380 671.9 1302.8" stroke="#00e6ff" stroke-width="1.9" fill="none" stroke-linecap="butt"/>
<path d="M125.8 1372.6L371.2 1264.2L775.3 1315.3L579.7 1443.6Z" stroke="#000" stroke-width="2.2" fill="none" stroke-linejoin="miter"/>
<path d="M113.4 870.9L125.8 1372.6M177.1 861.5L185.3 1227.1M472.6 837.7L472.5 1169.8M240.8 852L247.2 1204.3M577.1 842.3L573.9 1180.6M304.5 842.5L309.2 1181.6M681.5 846.9L675.2 1191.5M368.2 833.1L371.2 1264.2M786 851.5L775.3 1315.3M113.4 870.9L368.2 833.1L786 851.5M114.8 925L368.6 879.6L784.6 901.6M116.2 979.2L369.1 926.2L783.3 951.7M117.6 1033.3L369.5 972.7L781.9 1001.8M119.1 1087.4L369.9 1019.3L780.6 1052M120.5 1141.5L370.3 1065.8L779.2 1102.1M121.9 1195.7L370.8 1112.4L777.9 1152.2M123.3 1249.8L371.2 1158.9L776.5 1202.3" stroke="#000" stroke-width="2.2" fill="none" stroke-linejoin="round"/>
<circle cx="125.8" cy="1372.6" r="2.2" fill="#000"/>
<circle cx="239.3" cy="1390.4" r="2.2" fill="#000"/>
<circle cx="352.8" cy="1408.1" r="2.2" fill="#000"/>
<circle cx="466.2" cy="1425.9" r="2.2" fill="#000"/>
<circle cx="579.7" cy="1443.6" r="2.2" fill="#000"/>
<circle cx="628.6" cy="1411.5" r="2.2" fill="#000"/>
<circle cx="677.5" cy="1379.5" r="2.2" fill="#000"/>
<circle cx="726.4" cy="1347.4" r="2.2" fill="#000"/>
<circle cx="775.3" cy="1315.3" r="2.2" fill="#000"/>
<circle cx="113.4" cy="870.9" r="2.2" fill="#000"/>
<circle cx="114.8" cy="925" r="2.2" fill="#000"/>
<circle cx="116.2" cy="979.2" r="2.2" fill="#000"/>
<circle cx="117.6" cy="1033.3" r="2.2" fill="#000"/>
<circle cx="119.1" cy="1087.4" r="2.2" fill="#000"/>
<circle cx="120.5" cy="1141.5" r="2.2" fill="#000"/>
<circle cx="121.9" cy="1195.7" r="2.2" fill="#000"/>
<circle cx="123.3" cy="1249.8" r="2.2" fill="#000"/>
<circle cx="339.3" cy="1050.3" r="6" fill="#ffc8c8" stroke="#b08080" stroke-width="0.8"/>
<circle cx="688.6" cy="1183.8" r="6" fill="#ffc8c8" stroke="#b08080" stroke-width="0.8"/>
<defs><linearGradient id="gc0" gradientUnits="userSpaceOnUse" x1="0" y1="0" x2="0" y2="1" gradientTransform="matrix(7.28 4.48 252.71 39.33 119.69 893.52)"><stop offset="0.000" stop-color="#ff2c00"/><stop offset="0.804" stop-color="#ffff00"/><stop offset="1.000" stop-color="#ccff00"/></linearGradient><linearGradient id="gc1" gradientUnits="userSpaceOnUse" x1="0" y1="0" x2="0" y2="1" gradientTransform="matrix(7.28 4.48 251.73 37.79 127.46 898.77)"><stop offset="0.000" stop-color="#ff3800"/><stop offset="0.765" stop-color="#ffff00"/><stop offset="1.000" stop-color="#c2ff00"/></linearGradient><linearGradient id="gc2" gradientUnits="userSpaceOnUse" x1="0" y1="0" x2="0" y2="1" gradientTransform="matrix(7.28 4.48 250.75 36.25 135.23 904.02)"><stop offset="0.000" stop-color="#ff4400"/><stop offset="0.725" stop-color="#ffff00"/><stop offset="1.000" stop-color="#b8ff00"/></linearGradient><linearGradient id="gc3" gradientUnits="userSpaceOnUse" x1="0" y1="0" x2="0" y2="1" gradientTransform="matrix(7.28 4.48 249.76 34.71 143.01 909.26)"><stop offset="0.000" stop-color="#ff5000"/><stop offset="0.684" stop-color="#ffff00"/><stop offset="1.000" stop-color="#aeff00"/></linearGradient><linearGradient id="gc4" gradientUnits="userSpaceOnUse" x1="0" y1="0" x2="0" y2="1" gradientTransform="matrix(7.28 4.48 248.78 33.17 150.78 914.51)"><stop offset="0.000" stop-color="#ff5c00"/><stop offset="0.643" stop-color="#ffff00"/><stop offset="1.000" stop-color="#a4ff00"/></linearGradient><linearGradient id="gc5" gradientUnits="userSpaceOnUse" x1="0" y1="0" x2="0" y2="1" gradientTransform="matrix(7.28 4.48 247.80 31.63 158.55 919.76)"><stop offset="0.000" stop-color="#ff6800"/><stop offset="0.600" stop-color="#ffff00"/><stop offset="1.000" stop-color="#9aff00"/></linearGradient><linearGradient id="gc6" gradientUnits="userSpaceOnUse" x1="0" y1="0" x2="0" y2="1" gradientTransform="matrix(7.28 4.48 246.82 30.09 166.33 925.00)"><stop offset="0.000" stop-color="#ff7400"/><stop offset="0.557" stop-color="#ffff00"/><stop offset="1.000" stop-color="#91ff00"/></linearGradient><linearGradient id="gc7" gradientUnits="userSpaceOnUse" x1="0" y1="0" x2="0" y2="1" gradientTransform="matrix(7.28 4.48 245.84 28.55 174.10 930.25)"><stop offset="0.000" stop-color="#ff8000"/><stop offset="0.514" stop-color="#ffff00"/><stop offset="1.000" stop-color="#87ff00"/></linearGradient><linearGradient id="gc8" gradientUnits="userSpaceOnUse" x1="0" y1="0" x2="0" y2="1" gradientTransform="matrix(7.28 4.48 244.86 27.01 181.87 935.50)"><stop offset="0.000" stop-color="#ff8c00"/><stop offset="0.469" stop-color="#ffff00"/><stop offset="1.000" stop-color="#7dff00"/></linearGradient><linearGradient id="gc9" gradientUnits="userSpaceOnUse" x1="0" y1="0" x2="0" y2="1" gradientTransform="matrix(7.28 4.48 243.87 25.47 189.65 940.74)"><stop offset="0.000" stop-color="#ff9800"/><stop offset="0.424" stop-color="#ffff00"/><stop offset="1.000" stop-color="#73ff00"/></linearGradient><linearGradient id="gc10" gradientUnits="userSpaceOnUse" x1="0" y1="0" x2="0" y2="1" gradientTransform="matrix(7.28 4.48 242.89 23.93 197.42 945.99)"><stop offset="0.000" stop-color="#ffa400"/><stop offset="0.377" stop-color="#ffff00"/><stop offset="1.000" stop-color="#69ff00"/></linearGradient><linearGradient id="gc11" gradientUnits="userSpaceOnUse" x1="0" y1="0" x2="0" y2="1" gradientTransform="matrix(7.28 4.48 241.91 22.39 205.19 951.24)"><stop offset="0.000" stop-color="#ffb000"/><stop offset="0.330" stop-color="#ffff00"/><stop offset="1.000" stop-color="#60ff00"/></linearGradient><linearGradient id="gc12" gradientUnits="userSpaceOnUse" x1="0" y1="0" x2="0" y2="1" gradientTransform="matrix(7.28 4.48 240.93 20.85 212.97 956.48)"><stop offset="0.000" stop-color="#ffbc00"/><stop offset="0.282" stop-color="#ffff00"/><stop offset="1.000" stop-color="#56ff00"/></linearGradient><linearGradient id="gc13" gradientUnits="userSpaceOnUse" x1="0" y1="0" x2="0" y2="1" gradientTransform="matrix(7.28 4.48 239.95 19.31 220.74 961.73)"><stop offset="0.000" stop-color="#ffc900"/><stop offset="0.233" stop-color="#ffff00"/><stop offset="1.000" stop-color="#4cff00"/></linearGradient><linearGradient id="gc14" gradientUnits="userSpaceOnUse" x1="0" y1="0" x2="0" y2="1" gradientTransform="matrix(7.28 4.48 238.97 17.77 228.51 966.98)"><stop offset="0.000" stop-color="#ffd500"/><stop offset="0.183" stop-color="#ffff00"/><stop offset="1.000" stop-color="#42ff00"/></linearGradient><linearGradient id="gc15" gradientUnits="userSpaceOnUse" x1="0" y1="0" x2="0" y2="1" gradientTransform="matrix(7.28 4.48 237.98 16.23 236.29 972.22)"><stop offset="0.000" stop-color="#ffe100"/><stop offset="0.132" stop-color="#ffff00"/><stop offset="1.000" stop-color="#38ff00"/></linearGradient><linearGradient id="gc16" gradientUnits="userSpaceOnUse" x1="0" y1="0" x2="0" y2="1" gradientTransform="matrix(7.28 4.48 237.00 14.69 244.06 977.47)"><stop offset="0.000" stop-color="#ffed00"/><stop offset="0.080" stop-color="#ffff00"/><stop offset="1.000" stop-color="#2eff00"/></linearGradient><linearGradient id="gc17" gradientUnits="userSpaceOnUse" x1="0" y1="0" x2="0" y2="1" gradientTransform="matrix(7.28 4.48 236.02 13.15 251.83 982.72)"><stop offset="0.000" stop-color="#fff900"/><stop offset="0.028" stop-color="#ffff00"/><stop offset="1.000" stop-color="#25ff00"/></linearGradient><linearGradient id="gc18" gradientUnits="userSpaceOnUse" x1="0" y1="0" x2="0" y2="1" gradientTransform="matrix(7.28 4.48 235.04 11.61 259.61 987.96)"><stop offset="0.000" stop-color="#f9ff00"/><stop offset="1.000" stop-color="#1bff00"/></linearGradient><linearGradient id="gc19" gradientUnits="userSpaceOnUse" x1="0" y1="0" x2="0" y2="1" gradientTransform="matrix(7.28 4.48 234.06 10.07 267.38 993.21)"><stop offset="0.000" stop-color="#edff00"/><stop offset="1.000" stop-color="#11ff00"/></linearGradient><linearGradient id="gc20" gradientUnits="userSpaceOnUse" x1="0" y1="0" x2="0" y2="1" gradientTransform="matrix(7.28 4.48 233.08 8.53 275.15 998.46)"><stop offset="0.000" stop-color="#e1ff00"/><stop offset="1.000" stop-color="#07ff00"/></linearGradient><linearGradient id="gc21" gradientUnits="userSpaceOnUse" x1="0" y1="0" x2="0" y2="1" gradientTransform="matrix(7.28 4.48 232.09 6.99 282.93 1003.70)"><stop offset="0.000" stop-color="#d5ff00"/><stop offset="0.987" stop-color="#00ff00"/><stop offset="1.000" stop-color="#00ff03"/></linearGradient><linearGradient id="gc22" gradientUnits="userSpaceOnUse" x1="0" y1="0" x2="0" y2="1" gradientTransform="matrix(7.28 4.48 231.11 5.45 290.70 1008.95)"><stop offset="0.000" stop-color="#c9ff00"/><stop offset="0.941" stop-color="#00ff00"/><stop offset="1.000" stop-color="#00ff0d"/></linearGradient><linearGradient id="gc23" gradientUnits="userSpaceOnUse" x1="0" y1="0" x2="0" y2="1" gradientTransform="matrix(7.28 4.48 230.13 3.91 298.47 1014.20)"><stop offset="0.000" stop-color="#bdff00"/><stop offset="0.894" stop-color="#00ff00"/><stop offset="1.000" stop-color="#00ff16"/></linearGradient><linearGradient id="gc24" gradientUnits="userSpaceOnUse" x1="0" y1="0" x2="0" y2="1" gradientTransform="matrix(7.28 4.48 229.15 2.37 306.25 1019.44)"><stop offset="0.000" stop-color="#b1ff00"/><stop offset="0.846" stop-color="#00ff00"/><stop offset="1.000" stop-color="#00ff20"/></linearGradient><linearGradient id="gc25" gradientUnits="userSpaceOnUse" x1="0" y1="0" x2="0" y2="1" gradientTransform="matrix(7.28 4.48 228.17 0.83 314.02 1024.69)"><stop offset="0.000" stop-color="#a5ff00"/><stop offset="0.797" stop-color="#00ff00"/><stop offset="1.000" stop-color="#00ff2a"/></linearGradient><linearGradient id="gc26" gradientUnits="userSpaceOnUse" x1="0" y1="0" x2="0" y2="1" gradientTransform="matrix(7.28 4.48 227.19 -0.71 321.79 1029.94)"><stop offset="0.000" stop-color="#99ff00"/><stop offset="0.746" stop-color="#00ff00"/><stop offset="1.000" stop-color="#00ff34"/></linearGradient><linearGradient id="gc27" gradientUnits="userSpaceOnUse" x1="0" y1="0" x2="0" y2="1" gradientTransform="matrix(7.28 4.48 226.20 -2.25 329.57 1035.18)"><stop offset="0.000" stop-color="#8cff00"/><stop offset="0.695" stop-color="#00ff00"/><stop offset="1.000" stop-color="#00ff3e"/></linearGradient><linearGradient id="gc28" gradientUnits="userSpaceOnUse" x1="0" y1="0" x2="0" y2="1" gradientTransform="matrix(7.28 4.48 225.22 -3.79 337.34 1040.43)"><stop offset="0.000" stop-color="#80ff00"/><stop offset="0.642" stop-color="#00ff00"/><stop offset="1.000" stop-color="#00ff48"/></linearGradient><linearGradient id="gc29" gradientUnits="userSpaceOnUse" x1="0" y1="0" x2="0" y2="1" gradientTransform="matrix(7.28 4.48 224.24 -5.33 345.11 1045.68)"><stop offset="0.000" stop-color="#74ff00"/><stop offset="0.588" stop-color="#00ff00"/><stop offset="1.000" stop-color="#00ff51"/></linearGradient><linearGradient id="gc30" gradientUnits="userSpaceOnUse" x1="0" y1="0" x2="0" y2="1" gradientTransform="matrix(7.28 4.48 223.26 -6.87 352.89 1050.92)"><stop offset="0.000" stop-color="#68ff00"/><stop offset="0.533" stop-color="#00ff00"/><stop offset="1.000" stop-color="#00ff5b"/></linearGradient><linearGradient id="gc31" gradientUnits="userSpaceOnUse" x1="0" y1="0" x2="0" y2="1" gradientTransform="matrix(7.28 4.48 222.28 -8.41 360.66 1056.17)"><stop offset="0.000" stop-color="#5cff00"/><stop offset="0.477" stop-color="#00ff00"/><stop offset="1.000" stop-color="#00ff65"/></linearGradient><linearGradient id="gc32" gradientUnits="userSpaceOnUse" x1="0" y1="0" x2="0" y2="1" gradientTransform="matrix(7.28 4.48 221.30 -9.95 368.43 1061.42)"><stop offset="0.000" stop-color="#50ff00"/><stop offset="0.419" stop-color="#00ff00"/><stop offset="1.000" stop-color="#00ff6f"/></linearGradient><linearGradient id="gc33" gradientUnits="userSpaceOnUse" x1="0" y1="0" x2="0" y2="1" gradientTransform="matrix(7.28 4.48 220.31 -11.49 376.21 1066.66)"><stop offset="0.000" stop-color="#44ff00"/><stop offset="0.360" stop-color="#00ff00"/><stop offset="1.000" stop-color="#00ff79"/></linearGradient><linearGradient id="gc34" gradientUnits="userSpaceOnUse" x1="0" y1="0" x2="0" y2="1" gradientTransform="matrix(7.28 4.48 219.33 -13.03 383.98 1071.91)"><stop offset="0.000" stop-color="#38ff00"/><stop offset="0.300" stop-color="#00ff00"/><stop offset="1.000" stop-color="#00ff82"/></linearGradient><linearGradient id="gc35" gradientUnits="userSpaceOnUse" x1="0" y1="0" x2="0" y2="1" gradientTransform="matrix(7.28 4.48 218.35 -14.57 391.75 1077.16)"><stop offset="0.000" stop-color="#2cff00"/><stop offset="0.238" stop-color="#00ff00"/><stop offset="1.000" stop-color="#00ff8c"/></linearGradient><linearGradient id="gc36" gradientUnits="userSpaceOnUse" x1="0" y1="0" x2="0" y2="1" gradientTransform="matrix(7.28 4.48 217.37 -16.11 399.53 1082.40)"><stop offset="0.000" stop-color="#20ff00"/><stop offset="0.175" stop-color="#00ff00"/><stop offset="1.000" stop-color="#00ff96"/></linearGradient><linearGradient id="gc37" gradientUnits="userSpaceOnUse" x1="0" y1="0" x2="0" y2="1" gradientTransform="matrix(7.28 4.48 216.39 -17.65 407.30 1087.65)"><stop offset="0.000" stop-color="#14ff00"/><stop offset="0.110" stop-color="#00ff00"/><stop offset="1.000" stop-color="#00ffa0"/></linearGradient><linearGradient id="gc38" gradientUnits="userSpaceOnUse" x1="0" y1="0" x2="0" y2="1" gradientTransform="matrix(7.28 4.48 215.41 -19.19 415.07 1092.90)"><stop offset="0.000" stop-color="#08ff00"/><stop offset="0.043" stop-color="#00ff00"/><stop offset="1.000" stop-color="#00ffaa"/></linearGradient><linearGradient id="gc39" gradientUnits="userSpaceOnUse" x1="0" y1="0" x2="0" y2="1" gradientTransform="matrix(7.28 4.48 214.42 -20.73 422.85 1098.14)"><stop offset="0.000" stop-color="#00ff04"/><stop offset="1.000" stop-color="#00ffb4"/></linearGradient><linearGradient id="gc40" gradientUnits="userSpaceOnUse" x1="0" y1="0" x2="0" y2="1" gradientTransform="matrix(7.28 4.48 213.44 -22.27 430.62 1103.39)"><stop offset="0.000" stop-color="#00ff11"/><stop offset="1.000" stop-color="#00ffbd"/></linearGradient><linearGradient id="gc41" gradientUnits="userSpaceOnUse" x1="0" y1="0" x2="0" y2="1" gradientTransform="matrix(7.28 4.48 212.46 -23.81 438.39 1108.64)"><stop offset="0.000" stop-color="#00ff1d"/><stop offset="1.000" stop-color="#00ffc7"/></linearGradient><linearGradient id="gc42" gradientUnits="userSpaceOnUse" x1="0" y1="0" x2="0" y2="1" gradientTransform="matrix(7.28 4.48 211.48 -25.35 446.17 1113.88)"><stop offset="0.000" stop-color="#00ff29"/><stop offset="1.000" stop-color="#00ffd1"/></linearGradient><linearGradient id="gc43" gradientUnits="userSpaceOnUse" x1="0" y1="0" x2="0" y2="1" gradientTransform="matrix(7.28 4.48 210.50 -26.89 453.94 1119.13)"><stop offset="0.000" stop-color="#00ff35"/><stop offset="1.000" stop-color="#00ffdb"/></linearGradient><linearGradient id="gc44" gradientUnits="userSpaceOnUse" x1="0" y1="0" x2="0" y2="1" gradientTransform="matrix(7.28 4.48 209.52 -28.43 461.71 1124.38)"><stop offset="0.000" stop-color="#00ff41"/><stop offset="1.000" stop-color="#00ffe5"/></linearGradient><linearGradient id="gc45" gradientUnits="userSpaceOnUse" x1="0" y1="0" x2="0" y2="1" gradientTransform="matrix(7.28 4.48 208.53 -29.97 469.49 1129.62)"><stop offset="0.000" stop-color="#00ff4d"/><stop offset="1.000" stop-color="#00ffef"/></linearGradient><linearGradient id="gc46" gradientUnits="userSpaceOnUse" x1="0" y1="0" x2="0" y2="1" gradientTransform="matrix(7.28 4.48 207.55 -31.51 477.26 1134.87)"><stop offset="0.000" stop-color="#00ff59"/><stop offset="1.000" stop-color="#00fff8"/></linearGradient><linearGradient id="gc47" gradientUnits="userSpaceOnUse" x1="0" y1="0" x2="0" y2="1" gradientTransform="matrix(7.28 4.48 206.57 -33.05 485.03 1140.12)"><stop offset="0.000" stop-color="#00ff65"/><stop offset="0.980" stop-color="#00ffff"/><stop offset="1.000" stop-color="#00fcff"/></linearGradient><linearGradient id="gc48" gradientUnits="userSpaceOnUse" x1="0" y1="0" x2="0" y2="1" gradientTransform="matrix(7.28 4.48 205.59 -34.59 492.81 1145.36)"><stop offset="0.000" stop-color="#00ff71"/><stop offset="0.916" stop-color="#00ffff"/><stop offset="1.000" stop-color="#00f2ff"/></linearGradient><linearGradient id="gc49" gradientUnits="userSpaceOnUse" x1="0" y1="0" x2="0" y2="1" gradientTransform="matrix(7.28 4.48 204.61 -36.13 500.58 1150.61)"><stop offset="0.000" stop-color="#00ff7d"/><stop offset="0.850" stop-color="#00ffff"/><stop offset="1.000" stop-color="#00e8ff"/></linearGradient><linearGradient id="gc50" gradientUnits="userSpaceOnUse" x1="0" y1="0" x2="0" y2="1" gradientTransform="matrix(7.28 4.48 203.63 -37.67 508.35 1155.86)"><stop offset="0.000" stop-color="#00ff89"/><stop offset="0.783" stop-color="#00ffff"/><stop offset="1.000" stop-color="#00deff"/></linearGradient><linearGradient id="gc51" gradientUnits="userSpaceOnUse" x1="0" y1="0" x2="0" y2="1" gradientTransform="matrix(7.28 4.48 202.64 -39.21 516.13 1161.10)"><stop offset="0.000" stop-color="#00ff95"/><stop offset="0.713" stop-color="#00ffff"/><stop offset="1.000" stop-color="#00d5ff"/></linearGradient><linearGradient id="gc52" gradientUnits="userSpaceOnUse" x1="0" y1="0" x2="0" y2="1" gradientTransform="matrix(7.28 4.48 201.66 -40.75 523.90 1166.35)"><stop offset="0.000" stop-color="#00ffa1"/><stop offset="0.641" stop-color="#00ffff"/><stop offset="1.000" stop-color="#00cbff"/></linearGradient><linearGradient id="gc53" gradientUnits="userSpaceOnUse" x1="0" y1="0" x2="0" y2="1" gradientTransform="matrix(7.28 4.48 200.68 -42.29 531.67 1171.60)"><stop offset="0.000" stop-color="#00ffae"/><stop offset="0.567" stop-color="#00ffff"/><stop offset="1.000" stop-color="#00c1ff"/></linearGradient><linearGradient id="gc54" gradientUnits="userSpaceOnUse" x1="0" y1="0" x2="0" y2="1" gradientTransform="matrix(7.28 4.48 199.70 -43.83 539.45 1176.84)"><stop offset="0.000" stop-color="#00ffba"/><stop offset="0.491" stop-color="#00ffff"/><stop offset="1.000" stop-color="#00b7ff"/></linearGradient><linearGradient id="gc55" gradientUnits="userSpaceOnUse" x1="0" y1="0" x2="0" y2="1" gradientTransform="matrix(7.28 4.48 198.72 -45.37 547.22 1182.09)"><stop offset="0.000" stop-color="#00ffc6"/><stop offset="0.412" stop-color="#00ffff"/><stop offset="1.000" stop-color="#00adff"/></linearGradient><linearGradient id="gc56" gradientUnits="userSpaceOnUse" x1="0" y1="0" x2="0" y2="1" gradientTransform="matrix(7.28 4.48 197.74 -46.91 554.99 1187.34)"><stop offset="0.000" stop-color="#00ffd2"/><stop offset="0.331" stop-color="#00ffff"/><stop offset="1.000" stop-color="#00a3ff"/></linearGradient><linearGradient id="gc57" gradientUnits="userSpaceOnUse" x1="0" y1="0" x2="0" y2="1" gradientTransform="matrix(7.28 4.48 196.75 -48.45 562.77 1192.58)"><stop offset="0.000" stop-color="#00ffde"/><stop offset="0.247" stop-color="#00ffff"/><stop offset="1.000" stop-color="#009aff"/></linearGradient><linearGradient id="gc58" gradientUnits="userSpaceOnUse" x1="0" y1="0" x2="0" y2="1" gradientTransform="matrix(7.28 4.48 195.77 -49.99 570.54 1197.83)"><stop offset="0.000" stop-color="#00ffea"/><stop offset="0.159" stop-color="#00ffff"/><stop offset="1.000" stop-color="#0090ff"/></linearGradient><linearGradient id="gc59" gradientUnits="userSpaceOnUse" x1="0" y1="0" x2="0" y2="1" gradientTransform="matrix(7.28 4.48 194.79 -51.53 578.31 1203.08)"><stop offset="0.000" stop-color="#00fff6"/><stop offset="0.069" stop-color="#00ffff"/><stop offset="1.000" stop-color="#0086ff"/></linearGradient></defs>
<polygon points="115.8,890.9 126.3,898 378.2,936 369,931" fill="url(#gc0)"/><polygon points="120.9,894.3 134.1,903.2 385,939.7 373.4,933.4" fill="url(#gc1)"/><polygon points="128.6,899.6 141.8,908.5 391.8,943.4 380.2,937.1" fill="url(#gc2)"/><polygon points="136.4,904.8 149.6,913.7 398.5,947.1 387,940.8" fill="url(#gc3)"/><polygon points="144.2,910.1 157.4,919 405.3,950.8 393.8,944.5" fill="url(#gc4)"/><polygon points="151.9,915.3 165.2,924.2 412.1,954.5 400.6,948.2" fill="url(#gc5)"/><polygon points="159.7,920.5 172.9,929.5 418.9,958.2 407.4,951.9" fill="url(#gc6)"/><polygon points="167.5,925.8 180.7,934.7 425.7,962 414.2,955.6" fill="url(#gc7)"/><polygon points="175.3,931 188.5,940 432.5,965.7 421,959.4" fill="url(#gc8)"/><polygon points="183,936.3 196.3,945.2 439.3,969.4 427.7,963.1" fill="url(#gc9)"/><polygon points="190.8,941.5 204,950.4 446.1,973.1 434.5,966.8" fill="url(#gc10)"/><polygon points="198.6,946.8 211.8,955.7 452.9,976.8 441.3,970.5" fill="url(#gc11)"/><polygon points="206.4,952 219.6,960.9 459.7,980.5 448.1,974.2" fill="url(#gc12)"/><polygon points="214.1,957.3 227.3,966.2 466.5,984.2 454.9,977.9" fill="url(#gc13)"/><polygon points="221.9,962.5 235.1,971.4 473.3,987.9 461.7,981.6" fill="url(#gc14)"/><polygon points="229.7,967.8 242.9,976.7 480,991.6 468.5,985.3" fill="url(#gc15)"/><polygon points="237.5,973 250.7,981.9 486.8,995.3 475.3,989" fill="url(#gc16)"/><polygon points="245.2,978.3 258.4,987.2 493.6,999 482.1,992.7" fill="url(#gc17)"/><polygon points="253,983.5 266.2,992.4 500.4,1002.7 488.9,996.4" fill="url(#gc18)"/><polygon points="260.8,988.8 274,997.7 507.2,1006.4 495.7,1000.1" fill="url(#gc19)"/><polygon points="268.5,994 281.8,1002.9 514,1010.1 502.5,1003.8" fill="url(#gc20)"/><polygon points="276.3,999.2 289.5,1008.2 520.8,1013.8 509.2,1007.5" fill="url(#gc21)"/><polygon points="284.1,1004.5 297.3,1013.4 527.6,1017.6 516,1011.2" fill="url(#gc22)"/><polygon points="291.9,1009.7 305.1,1018.7 534.4,1021.3 522.8,1015" fill="url(#gc23)"/><polygon points="299.6,1015 312.9,1023.9 541.2,1025 529.6,1018.7" fill="url(#gc24)"/><polygon points="307.4,1020.2 320.6,1029.1 548,1028.7 536.4,1022.4" fill="url(#gc25)"/><polygon points="315.2,1025.5 328.4,1034.4 554.8,1032.4 543.2,1026.1" fill="url(#gc26)"/><polygon points="323,1030.7 336.2,1039.6 561.5,1036.1 550,1029.8" fill="url(#gc27)"/><polygon points="330.7,1036 343.9,1044.9 568.3,1039.8 556.8,1033.5" fill="url(#gc28)"/><polygon points="338.5,1041.2 351.7,1050.1 575.1,1043.5 563.6,1037.2" fill="url(#gc29)"/><polygon points="346.3,1046.5 359.5,1055.4 581.9,1047.2 570.4,1040.9" fill="url(#gc30)"/><polygon points="354.1,1051.7 367.3,1060.6 588.7,1050.9 577.2,1044.6" fill="url(#gc31)"/><polygon points="361.8,1057 375,1065.9 595.5,1054.6 584,1048.3" fill="url(#gc32)"/><polygon points="369.6,1062.2 382.8,1071.1 602.3,1058.3 590.7,1052" fill="url(#gc33)"/><polygon points="377.4,1067.5 390.6,1076.4 609.1,1062 597.5,1055.7" fill="url(#gc34)"/><polygon points="385.1,1072.7 398.4,1081.6 615.9,1065.7 604.3,1059.4" fill="url(#gc35)"/><polygon points="392.9,1077.9 406.1,1086.9 622.7,1069.4 611.1,1063.1" fill="url(#gc36)"/><polygon points="400.7,1083.2 413.9,1092.1 629.5,1073.2 617.9,1066.8" fill="url(#gc37)"/><polygon points="408.5,1088.4 421.7,1097.4 636.3,1076.9 624.7,1070.6" fill="url(#gc38)"/><polygon points="416.2,1093.7 429.5,1102.6 643,1080.6 631.5,1074.3" fill="url(#gc39)"/><polygon points="424,1098.9 437.2,1107.8 649.8,1084.3 638.3,1078" fill="url(#gc40)"/><polygon points="431.8,1104.2 445,1113.1 656.6,1088 645.1,1081.7" fill="url(#gc41)"/><polygon points="439.6,1109.4 452.8,1118.3 663.4,1091.7 651.9,1085.4" fill="url(#gc42)"/><polygon points="447.3,1114.7 460.5,1123.6 670.2,1095.4 658.7,1089.1" fill="url(#gc43)"/><polygon points="455.1,1119.9 468.3,1128.8 677,1099.1 665.5,1092.8" fill="url(#gc44)"/><polygon points="462.9,1125.2 476.1,1134.1 683.8,1102.8 672.2,1096.5" fill="url(#gc45)"/><polygon points="470.7,1130.4 483.9,1139.3 690.6,1106.5 679,1100.2" fill="url(#gc46)"/><polygon points="478.4,1135.7 491.6,1144.6 697.4,1110.2 685.8,1103.9" fill="url(#gc47)"/><polygon points="486.2,1140.9 499.4,1149.8 704.2,1113.9 692.6,1107.6" fill="url(#gc48)"/><polygon points="494,1146.2 507.2,1155.1 711,1117.6 699.4,1111.3" fill="url(#gc49)"/><polygon points="501.7,1151.4 515,1160.3 717.8,1121.3 706.2,1115" fill="url(#gc50)"/><polygon points="509.5,1156.6 522.7,1165.6 724.5,1125 713,1118.7" fill="url(#gc51)"/><polygon points="517.3,1161.9 530.5,1170.8 731.3,1128.8 719.8,1122.4" fill="url(#gc52)"/><polygon points="525.1,1167.1 538.3,1176.1 738.1,1132.5 726.6,1126.2" fill="url(#gc53)"/><polygon points="532.8,1172.4 546.1,1181.3 744.9,1136.2 733.4,1129.9" fill="url(#gc54)"/><polygon points="540.6,1177.6 553.8,1186.5 751.7,1139.9 740.2,1133.6" fill="url(#gc55)"/><polygon points="548.4,1182.9 561.6,1191.8 758.5,1143.6 747,1137.3" fill="url(#gc56)"/><polygon points="556.2,1188.1 569.4,1197 765.3,1147.3 753.7,1141" fill="url(#gc57)"/><polygon points="563.9,1193.4 577.1,1202.3 772.1,1151 760.5,1144.7" fill="url(#gc58)"/><polygon points="571.7,1198.6 582.2,1205.7 776.5,1153.4 767.3,1148.4" fill="url(#gc59)"/>
<path d="M115.8 890.9L369 931M139.1 906.6L389.4 942.1M162.4 922.4L409.8 953.2M185.8 938.1L430.1 964.4M209.1 953.9L450.5 975.5M232.4 969.6L470.9 986.6M255.7 985.3L491.2 997.7M279 1001.1L511.6 1008.8M302.4 1016.8L532 1020M325.7 1032.6L552.4 1031.1M349 1048.3L572.8 1042.2M372.3 1064L593.1 1053.3M395.6 1079.8L613.5 1064.4M419 1095.5L633.9 1075.6M442.3 1111.3L654.2 1086.7M465.6 1127L674.6 1097.8M488.9 1142.7L695 1108.9M512.2 1158.5L715.4 1120M535.6 1174.2L735.8 1131.2M558.9 1190L756.1 1142.3M582.2 1205.7L776.5 1153.4" stroke="#000" stroke-width="2.1" fill="none"/>
<path d="M115.8 890.9L582.2 1205.7M126.3 892.6L590.3 1203.5M136.9 894.2L598.4 1201.3M147.4 895.9L606.5 1199.2M158 897.6L614.6 1197M168.6 899.3L622.7 1194.8M179.1 900.9L630.8 1192.6M189.6 902.6L638.9 1190.4M200.2 904.3L647 1188.3M210.8 905.9L655.1 1186.1M221.3 907.6L663.2 1183.9M231.8 909.3L671.3 1181.7M242.4 911L679.4 1179.6M252.9 912.6L687.4 1177.4M263.5 914.3L695.5 1175.2M274.1 916L703.6 1173M284.6 917.6L711.7 1170.8M295.1 919.3L719.8 1168.7M305.7 921L727.9 1166.5M316.2 922.6L736 1164.3M326.8 924.3L744.1 1162.1M337.3 926L752.2 1159.9M347.9 927.7L760.3 1157.8M358.4 929.3L768.4 1155.6M369 931L776.5 1153.4" stroke="#000" stroke-width="2.1" fill="none"/>
<circle cx="463.2" cy="1034.4" r="5" fill="#b40000" stroke="#000" stroke-width="1.2"/>
<circle cx="463.2" cy="1027.4" r="5" fill="#b40000" stroke="#000" stroke-width="1.2"/>
<text x="86" y="867.2" font-size="15.8" textLength="17.4" lengthAdjust="spacingAndGlyphs" fill="#686868" font-family="'Liberation Sans', Arial, Helvetica, sans-serif">12</text>
<text x="86.7" y="920.8" font-size="15.7" textLength="16.7" lengthAdjust="spacing" fill="#686868" font-family="'Liberation Sans', Arial, Helvetica, sans-serif">11</text>
<text x="88.4" y="975.6" font-size="15.8" textLength="16.7" lengthAdjust="spacingAndGlyphs" fill="#686868" font-family="'Liberation Sans', Arial, Helvetica, sans-serif">10</text>
<text x="98.4" y="1028.6" font-size="15.8" textLength="9.2" lengthAdjust="spacingAndGlyphs" fill="#686868" font-family="'Liberation Sans', Arial, Helvetica, sans-serif">9</text>
<text x="100.1" y="1084" font-size="15.8" textLength="9.5" lengthAdjust="spacingAndGlyphs" fill="#686868" font-family="'Liberation Sans', Arial, Helvetica, sans-serif">8</text>
<text x="100.9" y="1136.4" font-size="15.8" textLength="8.7" lengthAdjust="spacingAndGlyphs" fill="#686868" font-family="'Liberation Sans', Arial, Helvetica, sans-serif">7</text>
<text x="102.1" y="1192" font-size="15.8" textLength="9.5" lengthAdjust="spacingAndGlyphs" fill="#686868" font-family="'Liberation Sans', Arial, Helvetica, sans-serif">6</text>
<text x="102.6" y="1244.8" font-size="15.8" textLength="9.5" lengthAdjust="spacingAndGlyphs" fill="#686868" font-family="'Liberation Sans', Arial, Helvetica, sans-serif">5</text>
<text x="88.4" y="1390" font-size="16.5" textLength="28.2" lengthAdjust="spacing" fill="#686868" font-family="'Liberation Sans', Arial, Helvetica, sans-serif">100</text>
<text x="200.5" y="1407.5" font-size="16.5" textLength="28.2" lengthAdjust="spacing" fill="#686868" font-family="'Liberation Sans', Arial, Helvetica, sans-serif">200</text>
<text x="314.4" y="1425.7" font-size="16" textLength="27.4" lengthAdjust="spacing" fill="#686868" font-family="'Liberation Sans', Arial, Helvetica, sans-serif">300</text>
<text x="427.3" y="1445.4" font-size="17" textLength="29.1" lengthAdjust="spacing" fill="#686868" font-family="'Liberation Sans', Arial, Helvetica, sans-serif">400</text>
<text x="539.9" y="1462.8" font-size="16.7" textLength="28.6" lengthAdjust="spacing" fill="#686868" font-family="'Liberation Sans', Arial, Helvetica, sans-serif">500</text>
<text x="589.7" y="1462.8" font-size="15.8" textLength="6.2" lengthAdjust="spacingAndGlyphs" fill="#686868" font-family="'Liberation Sans', Arial, Helvetica, sans-serif">1</text>
<text x="638.8" y="1429.4" font-size="15.8" textLength="20.6" lengthAdjust="spacingAndGlyphs" fill="#686868" font-family="'Liberation Sans', Arial, Helvetica, sans-serif">1.5</text>
<text x="685.6" y="1398.8" font-size="15.8" textLength="9.2" lengthAdjust="spacingAndGlyphs" fill="#686868" font-family="'Liberation Sans', Arial, Helvetica, sans-serif">2</text>
<text x="734.2" y="1365.9" font-size="15.7" textLength="22.4" lengthAdjust="spacing" fill="#686868" font-family="'Liberation Sans', Arial, Helvetica, sans-serif">2.5</text>
<text x="782.8" y="1333.2" font-size="15.8" textLength="8.7" lengthAdjust="spacingAndGlyphs" fill="#686868" font-family="'Liberation Sans', Arial, Helvetica, sans-serif">3</text>
<text x="696.8" y="1413" font-size="17.6" textLength="261.1" lengthAdjust="spacing" fill="#686868" font-family="'Liberation Sans', Arial, Helvetica, sans-serif">C: Nozzle-to-substrate gap (mm)</text>
<text x="120.8" y="1470.5" font-size="17.4" textLength="275.8" lengthAdjust="spacing" fill="#686868" font-family="'Liberation Sans', Arial, Helvetica, sans-serif">A: Traverse feed velocity (mm/min)</text>
<text transform="translate(44.5,1220.6) rotate(-90)" x="0" y="0" font-size="17.5" textLength="190.2" lengthAdjust="spacing" fill="#686868" font-family="'Liberation Sans', Arial, Helvetica, sans-serif">Surface irregularity (Ra)</text>
<text x="8.7" y="831" font-size="46" textLength="51.1" lengthAdjust="spacing" fill="#000" font-family="'Liberation Serif', 'Times New Roman', serif" font-weight="bold">(c)</text>
</g>
<g>
<polygon points="1170.7,1305.8 1520.7,1187.5 1870.5,1305.8 1520.7,1458.6" fill="#636363"/>
<path d="M1245.4 1337.7Q1266 1304 1281.5 1268.5" stroke="#00e682" stroke-width="2.8" fill="none" stroke-linecap="butt"/>
<path d="M1323.9 1373.4Q1375 1308 1384.9 1233.1" stroke="#14dc50" stroke-width="2.8" fill="none" stroke-linecap="butt"/>
<path d="M1408.6 1408.7Q1500 1310 1483.3 1200.7" stroke="#1ee61e" stroke-width="2.8" fill="none" stroke-linecap="butt"/>
<path d="M1500 1447.3Q1618 1320 1592.2 1211.9" stroke="#50f000" stroke-width="2.8" fill="none" stroke-linecap="butt"/>
<path d="M1681.9 1387.5Q1738 1320 1725.5 1256.8" stroke="#96f000" stroke-width="2.8" fill="none" stroke-linecap="butt"/>
<path d="M1170.7 1305.8L1520.7 1187.5L1870.5 1305.8L1520.7 1458.6Z" stroke="#505050" stroke-width="1.6" fill="none" stroke-linejoin="miter"/>
<path d="M1147.5 870.1L1170.7 1305.8M1240.8 850.9L1253.9 1174.8M1613.9 812.4L1609.6 1120.2M1334.1 831.6L1342.8 1147.5M1707.2 831.6L1698.5 1147.5M1427.4 812.4L1431.8 1120.2M1800.4 850.9L1787.3 1174.8M1520.7 793.1L1520.7 1187.5M1893.6 870.1L1870.5 1305.8M1147.5 870.1L1520.7 793.1L1893.6 870.1M1150 917.5L1520.7 835.9L1891.1 917.5M1152.5 964.9L1520.7 878.8L1888.6 964.9M1155 1012.3L1520.7 921.6L1886.1 1012.3M1157.4 1059.8L1520.7 964.5L1883.7 1059.8M1159.9 1107.2L1520.7 1007.3L1881.2 1107.2M1162.4 1154.6L1520.7 1050.2L1878.7 1154.6M1164.9 1202L1520.7 1093L1876.2 1202" stroke="#505050" stroke-width="1.6" fill="none" stroke-linejoin="round"/>
<circle cx="1170.7" cy="1305.8" r="2.2" fill="#000"/>
<circle cx="1258.2" cy="1344" r="2.2" fill="#000"/>
<circle cx="1345.7" cy="1382.2" r="2.2" fill="#000"/>
<circle cx="1433.2" cy="1420.4" r="2.2" fill="#000"/>
<circle cx="1520.7" cy="1458.6" r="2.2" fill="#000"/>
<circle cx="1608.2" cy="1420.4" r="2.2" fill="#000"/>
<circle cx="1695.6" cy="1382.2" r="2.2" fill="#000"/>
<circle cx="1783" cy="1344" r="2.2" fill="#000"/>
<circle cx="1870.5" cy="1305.8" r="2.2" fill="#000"/>
<circle cx="1147.5" cy="870.1" r="2.2" fill="#000"/>
<circle cx="1150" cy="917.5" r="2.2" fill="#000"/>
<circle cx="1152.5" cy="964.9" r="2.2" fill="#000"/>
<circle cx="1155" cy="1012.3" r="2.2" fill="#000"/>
<circle cx="1157.4" cy="1059.8" r="2.2" fill="#000"/>
<circle cx="1159.9" cy="1107.2" r="2.2" fill="#000"/>
<circle cx="1162.4" cy="1154.6" r="2.2" fill="#000"/>
<circle cx="1164.9" cy="1202" r="2.2" fill="#000"/>
<circle cx="1326.4" cy="1122.5" r="6" fill="#ffc8c8" stroke="#b08080" stroke-width="0.8"/>
<circle cx="1715.5" cy="1066.9" r="6" fill="#ffc8c8" stroke="#b08080" stroke-width="0.8"/>
<defs><linearGradient id="gd0" gradientUnits="userSpaceOnUse" x1="0" y1="0" x2="0" y2="1" gradientTransform="matrix(6.04 0.71 359.35 -155.15 1164.39 1098.63)"><stop offset="0.000" stop-color="#00ffb8"/><stop offset="0.933" stop-color="#00ff00"/><stop offset="1.000" stop-color="#0dff00"/></linearGradient><linearGradient id="gd1" gradientUnits="userSpaceOnUse" x1="0" y1="0" x2="0" y2="1" gradientTransform="matrix(6.04 0.71 359.45 -155.04 1170.38 1099.29)"><stop offset="0.000" stop-color="#00ffb4"/><stop offset="0.919" stop-color="#00ff00"/><stop offset="1.000" stop-color="#10ff00"/></linearGradient><linearGradient id="gd2" gradientUnits="userSpaceOnUse" x1="0" y1="0" x2="0" y2="1" gradientTransform="matrix(6.04 0.72 359.55 -154.93 1176.37 1099.95)"><stop offset="0.000" stop-color="#00ffb0"/><stop offset="0.906" stop-color="#00ff00"/><stop offset="1.000" stop-color="#12ff00"/></linearGradient><linearGradient id="gd3" gradientUnits="userSpaceOnUse" x1="0" y1="0" x2="0" y2="1" gradientTransform="matrix(6.04 0.72 359.66 -154.83 1182.36 1100.62)"><stop offset="0.000" stop-color="#00ffac"/><stop offset="0.892" stop-color="#00ff00"/><stop offset="1.000" stop-color="#15ff00"/></linearGradient><linearGradient id="gd4" gradientUnits="userSpaceOnUse" x1="0" y1="0" x2="0" y2="1" gradientTransform="matrix(6.04 0.72 359.76 -154.72 1188.35 1101.28)"><stop offset="0.000" stop-color="#00ffa8"/><stop offset="0.878" stop-color="#00ff00"/><stop offset="1.000" stop-color="#17ff00"/></linearGradient><linearGradient id="gd5" gradientUnits="userSpaceOnUse" x1="0" y1="0" x2="0" y2="1" gradientTransform="matrix(6.04 0.71 359.86 -154.61 1194.34 1101.94)"><stop offset="0.000" stop-color="#00ffa3"/><stop offset="0.864" stop-color="#00ff00"/><stop offset="1.000" stop-color="#1aff00"/></linearGradient><linearGradient id="gd6" gradientUnits="userSpaceOnUse" x1="0" y1="0" x2="0" y2="1" gradientTransform="matrix(6.04 0.71 359.96 -154.51 1200.32 1102.60)"><stop offset="0.000" stop-color="#00ff9f"/><stop offset="0.849" stop-color="#00ff00"/><stop offset="1.000" stop-color="#1cff00"/></linearGradient><linearGradient id="gd7" gradientUnits="userSpaceOnUse" x1="0" y1="0" x2="0" y2="1" gradientTransform="matrix(6.04 0.72 360.06 -154.40 1206.31 1103.26)"><stop offset="0.000" stop-color="#00ff9b"/><stop offset="0.835" stop-color="#00ff00"/><stop offset="1.000" stop-color="#1fff00"/></linearGradient><linearGradient id="gd8" gradientUnits="userSpaceOnUse" x1="0" y1="0" x2="0" y2="1" gradientTransform="matrix(6.04 0.71 360.16 -154.29 1212.30 1103.92)"><stop offset="0.000" stop-color="#00ff97"/><stop offset="0.820" stop-color="#00ff00"/><stop offset="1.000" stop-color="#21ff00"/></linearGradient><linearGradient id="gd9" gradientUnits="userSpaceOnUse" x1="0" y1="0" x2="0" y2="1" gradientTransform="matrix(6.04 0.71 360.27 -154.19 1218.29 1104.59)"><stop offset="0.000" stop-color="#00ff93"/><stop offset="0.804" stop-color="#00ff00"/><stop offset="1.000" stop-color="#24ff00"/></linearGradient><linearGradient id="gd10" gradientUnits="userSpaceOnUse" x1="0" y1="0" x2="0" y2="1" gradientTransform="matrix(6.04 0.72 360.37 -154.08 1224.28 1105.25)"><stop offset="0.000" stop-color="#00ff8f"/><stop offset="0.789" stop-color="#00ff00"/><stop offset="1.000" stop-color="#26ff00"/></linearGradient><linearGradient id="gd11" gradientUnits="userSpaceOnUse" x1="0" y1="0" x2="0" y2="1" gradientTransform="matrix(6.04 0.71 360.47 -153.97 1230.27 1105.91)"><stop offset="0.000" stop-color="#00ff8b"/><stop offset="0.773" stop-color="#00ff00"/><stop offset="1.000" stop-color="#29ff00"/></linearGradient><linearGradient id="gd12" gradientUnits="userSpaceOnUse" x1="0" y1="0" x2="0" y2="1" gradientTransform="matrix(6.04 0.71 360.57 -153.87 1236.25 1106.57)"><stop offset="0.000" stop-color="#00ff87"/><stop offset="0.757" stop-color="#00ff00"/><stop offset="1.000" stop-color="#2bff00"/></linearGradient><linearGradient id="gd13" gradientUnits="userSpaceOnUse" x1="0" y1="0" x2="0" y2="1" gradientTransform="matrix(6.04 0.72 360.67 -153.76 1242.24 1107.23)"><stop offset="0.000" stop-color="#00ff83"/><stop offset="0.741" stop-color="#00ff00"/><stop offset="1.000" stop-color="#2eff00"/></linearGradient><linearGradient id="gd14" gradientUnits="userSpaceOnUse" x1="0" y1="0" x2="0" y2="1" gradientTransform="matrix(6.04 0.71 360.77 -153.65 1248.23 1107.89)"><stop offset="0.000" stop-color="#00ff7f"/><stop offset="0.724" stop-color="#00ff00"/><stop offset="1.000" stop-color="#30ff00"/></linearGradient><linearGradient id="gd15" gradientUnits="userSpaceOnUse" x1="0" y1="0" x2="0" y2="1" gradientTransform="matrix(6.04 0.71 360.88 -153.55 1254.22 1108.56)"><stop offset="0.000" stop-color="#00ff7a"/><stop offset="0.707" stop-color="#00ff00"/><stop offset="1.000" stop-color="#33ff00"/></linearGradient><linearGradient id="gd16" gradientUnits="userSpaceOnUse" x1="0" y1="0" x2="0" y2="1" gradientTransform="matrix(6.04 0.72 360.98 -153.44 1260.21 1109.22)"><stop offset="0.000" stop-color="#00ff76"/><stop offset="0.690" stop-color="#00ff00"/><stop offset="1.000" stop-color="#35ff00"/></linearGradient><linearGradient id="gd17" gradientUnits="userSpaceOnUse" x1="0" y1="0" x2="0" y2="1" gradientTransform="matrix(6.04 0.72 361.08 -153.33 1266.20 1109.88)"><stop offset="0.000" stop-color="#00ff72"/><stop offset="0.672" stop-color="#00ff00"/><stop offset="1.000" stop-color="#38ff00"/></linearGradient><linearGradient id="gd18" gradientUnits="userSpaceOnUse" x1="0" y1="0" x2="0" y2="1" gradientTransform="matrix(6.04 0.71 361.18 -153.23 1272.18 1110.54)"><stop offset="0.000" stop-color="#00ff6e"/><stop offset="0.654" stop-color="#00ff00"/><stop offset="1.000" stop-color="#3aff00"/></linearGradient><linearGradient id="gd19" gradientUnits="userSpaceOnUse" x1="0" y1="0" x2="0" y2="1" gradientTransform="matrix(6.04 0.71 361.28 -153.12 1278.17 1111.20)"><stop offset="0.000" stop-color="#00ff6a"/><stop offset="0.636" stop-color="#00ff00"/><stop offset="1.000" stop-color="#3dff00"/></linearGradient><linearGradient id="gd20" gradientUnits="userSpaceOnUse" x1="0" y1="0" x2="0" y2="1" gradientTransform="matrix(6.04 0.71 361.38 -153.01 1284.16 1111.86)"><stop offset="0.000" stop-color="#00ff66"/><stop offset="0.617" stop-color="#00ff00"/><stop offset="1.000" stop-color="#3fff00"/></linearGradient><linearGradient id="gd21" gradientUnits="userSpaceOnUse" x1="0" y1="0" x2="0" y2="1" gradientTransform="matrix(6.04 0.71 361.49 -152.91 1290.15 1112.53)"><stop offset="0.000" stop-color="#00ff62"/><stop offset="0.598" stop-color="#00ff00"/><stop offset="1.000" stop-color="#42ff00"/></linearGradient><linearGradient id="gd22" gradientUnits="userSpaceOnUse" x1="0" y1="0" x2="0" y2="1" gradientTransform="matrix(6.04 0.72 361.59 -152.80 1296.14 1113.19)"><stop offset="0.000" stop-color="#00ff5e"/><stop offset="0.579" stop-color="#00ff00"/><stop offset="1.000" stop-color="#44ff00"/></linearGradient><linearGradient id="gd23" gradientUnits="userSpaceOnUse" x1="0" y1="0" x2="0" y2="1" gradientTransform="matrix(6.04 0.72 361.69 -152.69 1302.13 1113.85)"><stop offset="0.000" stop-color="#00ff5a"/><stop offset="0.559" stop-color="#00ff00"/><stop offset="1.000" stop-color="#47ff00"/></linearGradient><linearGradient id="gd24" gradientUnits="userSpaceOnUse" x1="0" y1="0" x2="0" y2="1" gradientTransform="matrix(6.04 0.71 361.79 -152.59 1308.11 1114.51)"><stop offset="0.000" stop-color="#00ff56"/><stop offset="0.539" stop-color="#00ff00"/><stop offset="1.000" stop-color="#49ff00"/></linearGradient><linearGradient id="gd25" gradientUnits="userSpaceOnUse" x1="0" y1="0" x2="0" y2="1" gradientTransform="matrix(6.04 0.71 361.89 -152.48 1314.10 1115.17)"><stop offset="0.000" stop-color="#00ff51"/><stop offset="0.518" stop-color="#00ff00"/><stop offset="1.000" stop-color="#4cff00"/></linearGradient><linearGradient id="gd26" gradientUnits="userSpaceOnUse" x1="0" y1="0" x2="0" y2="1" gradientTransform="matrix(6.04 0.72 361.99 -152.37 1320.09 1115.83)"><stop offset="0.000" stop-color="#00ff4d"/><stop offset="0.497" stop-color="#00ff00"/><stop offset="1.000" stop-color="#4eff00"/></linearGradient><linearGradient id="gd27" gradientUnits="userSpaceOnUse" x1="0" y1="0" x2="0" y2="1" gradientTransform="matrix(6.04 0.71 362.10 -152.27 1326.08 1116.50)"><stop offset="0.000" stop-color="#00ff49"/><stop offset="0.476" stop-color="#00ff00"/><stop offset="1.000" stop-color="#51ff00"/></linearGradient><linearGradient id="gd28" gradientUnits="userSpaceOnUse" x1="0" y1="0" x2="0" y2="1" gradientTransform="matrix(6.04 0.71 362.20 -152.16 1332.07 1117.16)"><stop offset="0.000" stop-color="#00ff45"/><stop offset="0.454" stop-color="#00ff00"/><stop offset="1.000" stop-color="#53ff00"/></linearGradient><linearGradient id="gd29" gradientUnits="userSpaceOnUse" x1="0" y1="0" x2="0" y2="1" gradientTransform="matrix(6.04 0.72 362.30 -152.05 1338.06 1117.82)"><stop offset="0.000" stop-color="#00ff41"/><stop offset="0.431" stop-color="#00ff00"/><stop offset="1.000" stop-color="#56ff00"/></linearGradient><linearGradient id="gd30" gradientUnits="userSpaceOnUse" x1="0" y1="0" x2="0" y2="1" gradientTransform="matrix(6.04 0.71 362.40 -151.95 1344.04 1118.48)"><stop offset="0.000" stop-color="#00ff3d"/><stop offset="0.409" stop-color="#00ff00"/><stop offset="1.000" stop-color="#58ff00"/></linearGradient><linearGradient id="gd31" gradientUnits="userSpaceOnUse" x1="0" y1="0" x2="0" y2="1" gradientTransform="matrix(6.04 0.71 362.50 -151.84 1350.03 1119.14)"><stop offset="0.000" stop-color="#00ff39"/><stop offset="0.385" stop-color="#00ff00"/><stop offset="1.000" stop-color="#5bff00"/></linearGradient><linearGradient id="gd32" gradientUnits="userSpaceOnUse" x1="0" y1="0" x2="0" y2="1" gradientTransform="matrix(6.04 0.72 362.60 -151.73 1356.02 1119.80)"><stop offset="0.000" stop-color="#00ff35"/><stop offset="0.361" stop-color="#00ff00"/><stop offset="1.000" stop-color="#5dff00"/></linearGradient><linearGradient id="gd33" gradientUnits="userSpaceOnUse" x1="0" y1="0" x2="0" y2="1" gradientTransform="matrix(6.04 0.71 362.71 -151.63 1362.01 1120.47)"><stop offset="0.000" stop-color="#00ff31"/><stop offset="0.337" stop-color="#00ff00"/><stop offset="1.000" stop-color="#60ff00"/></linearGradient><linearGradient id="gd34" gradientUnits="userSpaceOnUse" x1="0" y1="0" x2="0" y2="1" gradientTransform="matrix(6.04 0.71 362.81 -151.52 1368.00 1121.13)"><stop offset="0.000" stop-color="#00ff2d"/><stop offset="0.312" stop-color="#00ff00"/><stop offset="1.000" stop-color="#62ff00"/></linearGradient><linearGradient id="gd35" gradientUnits="userSpaceOnUse" x1="0" y1="0" x2="0" y2="1" gradientTransform="matrix(6.04 0.72 362.91 -151.41 1373.99 1121.79)"><stop offset="0.000" stop-color="#00ff28"/><stop offset="0.286" stop-color="#00ff00"/><stop offset="1.000" stop-color="#65ff00"/></linearGradient><linearGradient id="gd36" gradientUnits="userSpaceOnUse" x1="0" y1="0" x2="0" y2="1" gradientTransform="matrix(6.04 0.72 363.01 -151.31 1379.97 1122.45)"><stop offset="0.000" stop-color="#00ff24"/><stop offset="0.260" stop-color="#00ff00"/><stop offset="1.000" stop-color="#67ff00"/></linearGradient><linearGradient id="gd37" gradientUnits="userSpaceOnUse" x1="0" y1="0" x2="0" y2="1" gradientTransform="matrix(6.04 0.71 363.11 -151.20 1385.96 1123.11)"><stop offset="0.000" stop-color="#00ff20"/><stop offset="0.234" stop-color="#00ff00"/><stop offset="1.000" stop-color="#6aff00"/></linearGradient><linearGradient id="gd38" gradientUnits="userSpaceOnUse" x1="0" y1="0" x2="0" y2="1" gradientTransform="matrix(6.04 0.71 363.21 -151.09 1391.95 1123.77)"><stop offset="0.000" stop-color="#00ff1c"/><stop offset="0.206" stop-color="#00ff00"/><stop offset="1.000" stop-color="#6cff00"/></linearGradient><linearGradient id="gd39" gradientUnits="userSpaceOnUse" x1="0" y1="0" x2="0" y2="1" gradientTransform="matrix(6.04 0.71 363.32 -150.99 1397.94 1124.44)"><stop offset="0.000" stop-color="#00ff18"/><stop offset="0.178" stop-color="#00ff00"/><stop offset="1.000" stop-color="#6fff00"/></linearGradient><linearGradient id="gd40" gradientUnits="userSpaceOnUse" x1="0" y1="0" x2="0" y2="1" gradientTransform="matrix(6.04 0.71 363.42 -150.88 1403.93 1125.10)"><stop offset="0.000" stop-color="#00ff14"/><stop offset="0.150" stop-color="#00ff00"/><stop offset="1.000" stop-color="#71ff00"/></linearGradient><linearGradient id="gd41" gradientUnits="userSpaceOnUse" x1="0" y1="0" x2="0" y2="1" gradientTransform="matrix(6.04 0.72 363.52 -150.77 1409.92 1125.76)"><stop offset="0.000" stop-color="#00ff10"/><stop offset="0.120" stop-color="#00ff00"/><stop offset="1.000" stop-color="#74ff00"/></linearGradient><linearGradient id="gd42" gradientUnits="userSpaceOnUse" x1="0" y1="0" x2="0" y2="1" gradientTransform="matrix(6.04 0.71 363.62 -150.67 1415.90 1126.42)"><stop offset="0.000" stop-color="#00ff0c"/><stop offset="0.090" stop-color="#00ff00"/><stop offset="1.000" stop-color="#76ff00"/></linearGradient><linearGradient id="gd43" gradientUnits="userSpaceOnUse" x1="0" y1="0" x2="0" y2="1" gradientTransform="matrix(6.04 0.72 363.72 -150.56 1421.89 1127.08)"><stop offset="0.000" stop-color="#00ff08"/><stop offset="0.060" stop-color="#00ff00"/><stop offset="1.000" stop-color="#79ff00"/></linearGradient><linearGradient id="gd44" gradientUnits="userSpaceOnUse" x1="0" y1="0" x2="0" y2="1" gradientTransform="matrix(6.04 0.71 363.82 -150.45 1427.88 1127.74)"><stop offset="0.000" stop-color="#00ff04"/><stop offset="0.028" stop-color="#00ff00"/><stop offset="1.000" stop-color="#7bff00"/></linearGradient><linearGradient id="gd45" gradientUnits="userSpaceOnUse" x1="0" y1="0" x2="0" y2="1" gradientTransform="matrix(6.04 0.72 363.93 -150.35 1433.87 1128.41)"><stop offset="0.000" stop-color="#01ff00"/><stop offset="1.000" stop-color="#7eff00"/></linearGradient><linearGradient id="gd46" gradientUnits="userSpaceOnUse" x1="0" y1="0" x2="0" y2="1" gradientTransform="matrix(6.04 0.71 364.03 -150.24 1439.86 1129.07)"><stop offset="0.000" stop-color="#05ff00"/><stop offset="1.000" stop-color="#80ff00"/></linearGradient><linearGradient id="gd47" gradientUnits="userSpaceOnUse" x1="0" y1="0" x2="0" y2="1" gradientTransform="matrix(6.04 0.71 364.13 -150.13 1445.85 1129.73)"><stop offset="0.000" stop-color="#09ff00"/><stop offset="1.000" stop-color="#83ff00"/></linearGradient><linearGradient id="gd48" gradientUnits="userSpaceOnUse" x1="0" y1="0" x2="0" y2="1" gradientTransform="matrix(6.04 0.71 364.23 -150.03 1451.83 1130.39)"><stop offset="0.000" stop-color="#0dff00"/><stop offset="1.000" stop-color="#85ff00"/></linearGradient><linearGradient id="gd49" gradientUnits="userSpaceOnUse" x1="0" y1="0" x2="0" y2="1" gradientTransform="matrix(6.04 0.71 364.33 -149.92 1457.82 1131.05)"><stop offset="0.000" stop-color="#11ff00"/><stop offset="1.000" stop-color="#88ff00"/></linearGradient><linearGradient id="gd50" gradientUnits="userSpaceOnUse" x1="0" y1="0" x2="0" y2="1" gradientTransform="matrix(6.04 0.72 364.43 -149.81 1463.81 1131.71)"><stop offset="0.000" stop-color="#15ff00"/><stop offset="1.000" stop-color="#8aff00"/></linearGradient><linearGradient id="gd51" gradientUnits="userSpaceOnUse" x1="0" y1="0" x2="0" y2="1" gradientTransform="matrix(6.04 0.72 364.54 -149.71 1469.80 1132.38)"><stop offset="0.000" stop-color="#19ff00"/><stop offset="1.000" stop-color="#8dff00"/></linearGradient><linearGradient id="gd52" gradientUnits="userSpaceOnUse" x1="0" y1="0" x2="0" y2="1" gradientTransform="matrix(6.04 0.71 364.64 -149.60 1475.79 1133.04)"><stop offset="0.000" stop-color="#1dff00"/><stop offset="1.000" stop-color="#8fff00"/></linearGradient><linearGradient id="gd53" gradientUnits="userSpaceOnUse" x1="0" y1="0" x2="0" y2="1" gradientTransform="matrix(6.04 0.71 364.74 -149.49 1481.78 1133.70)"><stop offset="0.000" stop-color="#21ff00"/><stop offset="1.000" stop-color="#92ff00"/></linearGradient><linearGradient id="gd54" gradientUnits="userSpaceOnUse" x1="0" y1="0" x2="0" y2="1" gradientTransform="matrix(6.04 0.72 364.84 -149.39 1487.76 1134.36)"><stop offset="0.000" stop-color="#25ff00"/><stop offset="1.000" stop-color="#94ff00"/></linearGradient><linearGradient id="gd55" gradientUnits="userSpaceOnUse" x1="0" y1="0" x2="0" y2="1" gradientTransform="matrix(6.04 0.71 364.94 -149.28 1493.75 1135.02)"><stop offset="0.000" stop-color="#2aff00"/><stop offset="1.000" stop-color="#97ff00"/></linearGradient><linearGradient id="gd56" gradientUnits="userSpaceOnUse" x1="0" y1="0" x2="0" y2="1" gradientTransform="matrix(6.04 0.72 365.04 -149.17 1499.74 1135.68)"><stop offset="0.000" stop-color="#2eff00"/><stop offset="1.000" stop-color="#99ff00"/></linearGradient><linearGradient id="gd57" gradientUnits="userSpaceOnUse" x1="0" y1="0" x2="0" y2="1" gradientTransform="matrix(6.04 0.71 365.15 -149.07 1505.73 1136.35)"><stop offset="0.000" stop-color="#32ff00"/><stop offset="1.000" stop-color="#9cff00"/></linearGradient><linearGradient id="gd58" gradientUnits="userSpaceOnUse" x1="0" y1="0" x2="0" y2="1" gradientTransform="matrix(6.04 0.71 365.25 -148.96 1511.72 1137.01)"><stop offset="0.000" stop-color="#36ff00"/><stop offset="1.000" stop-color="#9eff00"/></linearGradient><linearGradient id="gd59" gradientUnits="userSpaceOnUse" x1="0" y1="0" x2="0" y2="1" gradientTransform="matrix(6.04 0.71 365.35 -148.85 1517.71 1137.67)"><stop offset="0.000" stop-color="#3aff00"/><stop offset="1.000" stop-color="#a1ff00"/></linearGradient></defs>
<polygon points="1161.4,1098.3 1169.5,1099.2 1528.9,944.1 1520.7,943.1" fill="url(#gd0)"/><polygon points="1165.3,1098.7 1175.5,1099.9 1535,944.9 1524.7,943.6" fill="url(#gd1)"/><polygon points="1171.3,1099.4 1181.5,1100.5 1541.1,945.7 1530.7,944.4" fill="url(#gd2)"/><polygon points="1177.3,1100.1 1187.4,1101.2 1547.2,946.4 1536.8,945.1" fill="url(#gd3)"/><polygon points="1183.3,1100.7 1193.4,1101.8 1553.3,947.2 1542.9,945.9" fill="url(#gd4)"/><polygon points="1189.2,1101.4 1199.4,1102.5 1559.4,948 1549,946.7" fill="url(#gd5)"/><polygon points="1195.2,1102 1205.4,1103.2 1565.5,948.7 1555.1,947.4" fill="url(#gd6)"/><polygon points="1201.2,1102.7 1211.4,1103.8 1571.6,949.5 1561.2,948.2" fill="url(#gd7)"/><polygon points="1207.2,1103.4 1217.4,1104.5 1577.6,950.3 1567.3,949" fill="url(#gd8)"/><polygon points="1213.2,1104 1223.4,1105.1 1583.7,951.1 1573.4,949.7" fill="url(#gd9)"/><polygon points="1219.2,1104.7 1229.4,1105.8 1589.8,951.8 1579.5,950.5" fill="url(#gd10)"/><polygon points="1225.2,1105.3 1235.4,1106.5 1595.9,952.6 1585.6,951.3" fill="url(#gd11)"/><polygon points="1231.2,1106 1241.3,1107.1 1602,953.4 1591.6,952.1" fill="url(#gd12)"/><polygon points="1237.2,1106.7 1247.3,1107.8 1608.1,954.1 1597.7,952.8" fill="url(#gd13)"/><polygon points="1243.1,1107.3 1253.3,1108.5 1614.2,954.9 1603.8,953.6" fill="url(#gd14)"/><polygon points="1249.1,1108 1259.3,1109.1 1620.3,955.7 1609.9,954.4" fill="url(#gd15)"/><polygon points="1255.1,1108.7 1265.3,1109.8 1626.4,956.4 1616,955.1" fill="url(#gd16)"/><polygon points="1261.1,1109.3 1271.3,1110.4 1632.5,957.2 1622.1,955.9" fill="url(#gd17)"/><polygon points="1267.1,1110 1277.3,1111.1 1638.5,958 1628.2,956.7" fill="url(#gd18)"/><polygon points="1273.1,1110.6 1283.3,1111.8 1644.6,958.7 1634.3,957.4" fill="url(#gd19)"/><polygon points="1279.1,1111.3 1289.3,1112.4 1650.7,959.5 1640.4,958.2" fill="url(#gd20)"/><polygon points="1285.1,1112 1295.2,1113.1 1656.8,960.3 1646.5,959" fill="url(#gd21)"/><polygon points="1291,1112.6 1301.2,1113.7 1662.9,961 1652.5,959.7" fill="url(#gd22)"/><polygon points="1297,1113.3 1307.2,1114.4 1669,961.8 1658.6,960.5" fill="url(#gd23)"/><polygon points="1303,1113.9 1313.2,1115.1 1675.1,962.6 1664.7,961.3" fill="url(#gd24)"/><polygon points="1309,1114.6 1319.2,1115.7 1681.2,963.3 1670.8,962" fill="url(#gd25)"/><polygon points="1315,1115.3 1325.2,1116.4 1687.3,964.1 1676.9,962.8" fill="url(#gd26)"/><polygon points="1321,1115.9 1331.2,1117.1 1693.4,964.9 1683,963.6" fill="url(#gd27)"/><polygon points="1327,1116.6 1337.2,1117.7 1699.4,965.7 1689.1,964.3" fill="url(#gd28)"/><polygon points="1333,1117.3 1343.1,1118.4 1705.5,966.4 1695.2,965.1" fill="url(#gd29)"/><polygon points="1339,1117.9 1349.1,1119 1711.6,967.2 1701.3,965.9" fill="url(#gd30)"/><polygon points="1344.9,1118.6 1355.1,1119.7 1717.7,968 1707.4,966.6" fill="url(#gd31)"/><polygon points="1350.9,1119.2 1361.1,1120.4 1723.8,968.7 1713.4,967.4" fill="url(#gd32)"/><polygon points="1356.9,1119.9 1367.1,1121 1729.9,969.5 1719.5,968.2" fill="url(#gd33)"/><polygon points="1362.9,1120.6 1373.1,1121.7 1736,970.3 1725.6,969" fill="url(#gd34)"/><polygon points="1368.9,1121.2 1379.1,1122.4 1742.1,971 1731.7,969.7" fill="url(#gd35)"/><polygon points="1374.9,1121.9 1385.1,1123 1748.2,971.8 1737.8,970.5" fill="url(#gd36)"/><polygon points="1380.9,1122.6 1391.1,1123.7 1754.3,972.6 1743.9,971.3" fill="url(#gd37)"/><polygon points="1386.9,1123.2 1397,1124.3 1760.3,973.3 1750,972" fill="url(#gd38)"/><polygon points="1392.8,1123.9 1403,1125 1766.4,974.1 1756.1,972.8" fill="url(#gd39)"/><polygon points="1398.8,1124.5 1409,1125.7 1772.5,974.9 1762.2,973.6" fill="url(#gd40)"/><polygon points="1404.8,1125.2 1415,1126.3 1778.6,975.6 1768.3,974.3" fill="url(#gd41)"/><polygon points="1410.8,1125.9 1421,1127 1784.7,976.4 1774.3,975.1" fill="url(#gd42)"/><polygon points="1416.8,1126.5 1427,1127.6 1790.8,977.2 1780.4,975.9" fill="url(#gd43)"/><polygon points="1422.8,1127.2 1433,1128.3 1796.9,977.9 1786.5,976.6" fill="url(#gd44)"/><polygon points="1428.8,1127.8 1439,1129 1803,978.7 1792.6,977.4" fill="url(#gd45)"/><polygon points="1434.8,1128.5 1444.9,1129.6 1809.1,979.5 1798.7,978.2" fill="url(#gd46)"/><polygon points="1440.8,1129.2 1450.9,1130.3 1815.2,980.2 1804.8,978.9" fill="url(#gd47)"/><polygon points="1446.7,1129.8 1456.9,1131 1821.2,981 1810.9,979.7" fill="url(#gd48)"/><polygon points="1452.7,1130.5 1462.9,1131.6 1827.3,981.8 1817,980.5" fill="url(#gd49)"/><polygon points="1458.7,1131.2 1468.9,1132.3 1833.4,982.6 1823.1,981.2" fill="url(#gd50)"/><polygon points="1464.7,1131.8 1474.9,1132.9 1839.5,983.3 1829.2,982" fill="url(#gd51)"/><polygon points="1470.7,1132.5 1480.9,1133.6 1845.6,984.1 1835.2,982.8" fill="url(#gd52)"/><polygon points="1476.7,1133.1 1486.9,1134.3 1851.7,984.9 1841.3,983.6" fill="url(#gd53)"/><polygon points="1482.7,1133.8 1492.9,1134.9 1857.8,985.6 1847.4,984.3" fill="url(#gd54)"/><polygon points="1488.7,1134.5 1498.8,1135.6 1863.9,986.4 1853.5,985.1" fill="url(#gd55)"/><polygon points="1494.7,1135.1 1504.8,1136.2 1870,987.2 1859.6,985.9" fill="url(#gd56)"/><polygon points="1500.6,1135.8 1510.8,1136.9 1876.1,987.9 1865.7,986.6" fill="url(#gd57)"/><polygon points="1506.6,1136.4 1516.8,1137.6 1882.1,988.7 1871.8,987.4" fill="url(#gd58)"/><polygon points="1512.6,1137.1 1520.7,1138 1886.1,989.2 1877.9,988.2" fill="url(#gd59)"/>
<path d="M1161.4 1098.3L1520.7 943.1M1177.7 1100.1L1537.3 945.2M1194.1 1101.9L1553.9 947.3M1210.4 1103.7L1570.5 949.4M1226.7 1105.5L1587.1 951.5M1243.1 1107.3L1603.7 953.6M1259.4 1109.1L1620.4 955.7M1275.7 1110.9L1637 957.8M1292.1 1112.7L1653.6 959.9M1308.4 1114.5L1670.2 962M1324.7 1116.3L1686.8 964.1M1341.1 1118.2L1703.4 966.2M1357.4 1120L1720 968.2M1373.7 1121.8L1736.6 970.3M1390 1123.6L1753.2 972.4M1406.4 1125.4L1769.8 974.5M1422.7 1127.2L1786.4 976.6M1439 1129L1803.1 978.7M1455.4 1130.8L1819.7 980.8M1471.7 1132.6L1836.3 982.9M1488 1134.4L1852.9 985M1504.4 1136.2L1869.5 987.1M1520.7 1138L1886.1 989.2" stroke="#07520d" stroke-width="2.0" fill="none"/>
<path d="M1161.4 1098.3L1520.7 1138M1177.7 1091.2L1537.3 1131.2M1194.1 1084.2L1553.9 1124.5M1210.4 1077.1L1570.5 1117.7M1226.7 1070.1L1587.1 1110.9M1243.1 1063L1603.7 1104.2M1259.4 1056L1620.4 1097.4M1275.7 1048.9L1637 1090.7M1292.1 1041.9L1653.6 1083.9M1308.4 1034.8L1670.2 1077.1M1324.7 1027.8L1686.8 1070.4M1341.1 1020.7L1703.4 1063.6M1357.4 1013.6L1720 1056.8M1373.7 1006.6L1736.6 1050.1M1390 999.5L1753.2 1043.3M1406.4 992.5L1769.8 1036.5M1422.7 985.4L1786.4 1029.8M1439 978.4L1803.1 1023M1455.4 971.3L1819.7 1016.3M1471.7 964.3L1836.3 1009.5M1488 957.2L1852.9 1002.7M1504.4 950.2L1869.5 996M1520.7 943.1L1886.1 989.2" stroke="#07520d" stroke-width="2.0" fill="none"/>
<circle cx="1520.7" cy="1031.5" r="5.8" fill="#b40000" stroke="#500000" stroke-width="1"/>
<circle cx="1520.7" cy="1022.8" r="6" fill="#b40000" stroke="#500000" stroke-width="1"/>
<text x="1118.3" y="867.1" font-size="18.6" textLength="18.7" lengthAdjust="spacingAndGlyphs" fill="#404040" font-family="'Liberation Sans', Arial, Helvetica, sans-serif" stroke="#404040" stroke-width="0.28">12</text>
<text x="1120.8" y="914" font-size="18.6" textLength="17.5" lengthAdjust="spacingAndGlyphs" fill="#404040" font-family="'Liberation Sans', Arial, Helvetica, sans-serif" stroke="#404040" stroke-width="0.28">11</text>
<text x="1123.3" y="962.3" font-size="18.6" textLength="19.5" lengthAdjust="spacingAndGlyphs" fill="#404040" font-family="'Liberation Sans', Arial, Helvetica, sans-serif" stroke="#404040" stroke-width="0.28">10</text>
<text x="1135.3" y="1009.9" font-size="18.6" textLength="9.2" lengthAdjust="spacingAndGlyphs" fill="#404040" font-family="'Liberation Sans', Arial, Helvetica, sans-serif" stroke="#404040" stroke-width="0.28">9</text>
<text x="1137.8" y="1057" font-size="18.6" textLength="9.2" lengthAdjust="spacingAndGlyphs" fill="#404040" font-family="'Liberation Sans', Arial, Helvetica, sans-serif" stroke="#404040" stroke-width="0.28">8</text>
<text x="1141.3" y="1103.8" font-size="18.6" textLength="8.2" lengthAdjust="spacingAndGlyphs" fill="#404040" font-family="'Liberation Sans', Arial, Helvetica, sans-serif" stroke="#404040" stroke-width="0.28">7</text>
<text x="1143.2" y="1151.6" font-size="18.6" textLength="10" lengthAdjust="spacingAndGlyphs" fill="#404040" font-family="'Liberation Sans', Arial, Helvetica, sans-serif" stroke="#404040" stroke-width="0.28">6</text>
<text x="1145.7" y="1198.2" font-size="18.6" textLength="10" lengthAdjust="spacingAndGlyphs" fill="#404040" font-family="'Liberation Sans', Arial, Helvetica, sans-serif" stroke="#404040" stroke-width="0.28">5</text>
<text x="1151.5" y="1325.8" font-size="18.6" textLength="9.2" lengthAdjust="spacingAndGlyphs" fill="#404040" font-family="'Liberation Sans', Arial, Helvetica, sans-serif" stroke="#404040" stroke-width="0.28">3</text>
<text x="1224.2" y="1363.4" font-size="18.6" textLength="24.2" lengthAdjust="spacingAndGlyphs" fill="#404040" font-family="'Liberation Sans', Arial, Helvetica, sans-serif" stroke="#404040" stroke-width="0.28">2.5</text>
<text x="1325.9" y="1401.2" font-size="18.6" textLength="9.2" lengthAdjust="spacingAndGlyphs" fill="#404040" font-family="'Liberation Sans', Arial, Helvetica, sans-serif" stroke="#404040" stroke-width="0.28">2</text>
<text x="1400.3" y="1439.1" font-size="18.6" textLength="22.5" lengthAdjust="spacingAndGlyphs" fill="#404040" font-family="'Liberation Sans', Arial, Helvetica, sans-serif" stroke="#404040" stroke-width="0.28">1.5</text>
<text x="1502.5" y="1476.7" font-size="18.6" textLength="7" lengthAdjust="spacingAndGlyphs" fill="#404040" font-family="'Liberation Sans', Arial, Helvetica, sans-serif" stroke="#404040" stroke-width="0.28">1</text>
<text x="1532.9" y="1476.7" font-size="18.6" textLength="26.9" lengthAdjust="spacingAndGlyphs" fill="#404040" font-family="'Liberation Sans', Arial, Helvetica, sans-serif" stroke="#404040" stroke-width="0.28">100</text>
<text x="1619.6" y="1439.4" font-size="18.6" textLength="28.6" lengthAdjust="spacingAndGlyphs" fill="#404040" font-family="'Liberation Sans', Arial, Helvetica, sans-serif" stroke="#404040" stroke-width="0.28">150</text>
<text x="1705.5" y="1401.2" font-size="18.6" textLength="28.7" lengthAdjust="spacingAndGlyphs" fill="#404040" font-family="'Liberation Sans', Arial, Helvetica, sans-serif" stroke="#404040" stroke-width="0.28">200</text>
<text x="1794" y="1363.4" font-size="18.6" textLength="28.1" lengthAdjust="spacingAndGlyphs" fill="#404040" font-family="'Liberation Sans', Arial, Helvetica, sans-serif" stroke="#404040" stroke-width="0.28">250</text>
<text x="1881.9" y="1325.3" font-size="18.6" textLength="27.9" lengthAdjust="spacingAndGlyphs" fill="#404040" font-family="'Liberation Sans', Arial, Helvetica, sans-serif" stroke="#404040" stroke-width="0.28">300</text>
<text x="1073.5" y="1444.3" font-size="18.4" textLength="274" lengthAdjust="spacing" fill="#404040" font-family="'Liberation Sans', Arial, Helvetica, sans-serif" stroke="#404040" stroke-width="0.28">C: Nozzle-to-substrate gap (mm)</text>
<text x="1659.4" y="1443.6" font-size="18.6" textLength="339.6" lengthAdjust="spacing" fill="#404040" font-family="'Liberation Sans', Arial, Helvetica, sans-serif" stroke="#404040" stroke-width="0.28">B: Abrasive discharge proportion (g/min)</text>
<text transform="translate(1080.5,1185.8) rotate(-90)" x="0" y="0" font-size="19" textLength="182.2" lengthAdjust="spacingAndGlyphs" fill="#5a5a5a" font-family="'Liberation Sans', Arial, Helvetica, sans-serif">Surface irregularity (Ra)</text>
<text x="1060.5" y="820" font-size="46" textLength="56.6" lengthAdjust="spacing" fill="#000" font-family="'Liberation Serif', 'Times New Roman', serif" font-weight="bold">(d)</text>
</g>
</svg>
</body>
</html>
